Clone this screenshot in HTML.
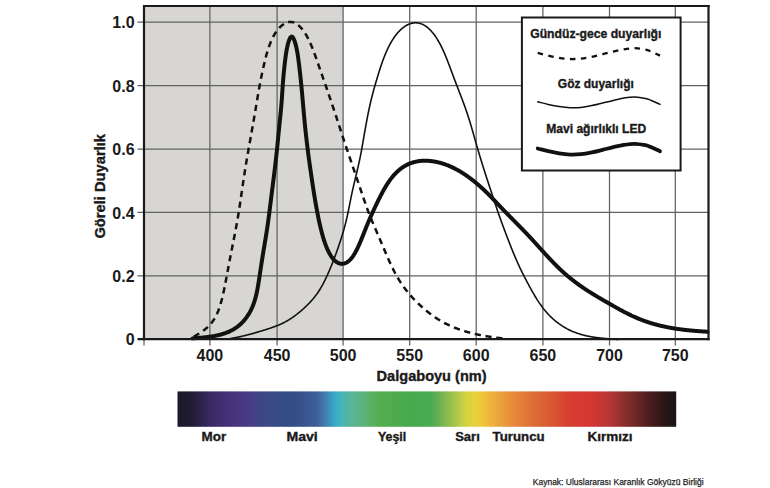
<!DOCTYPE html>
<html><head><meta charset="utf-8"><style>
html,body{margin:0;padding:0;background:#fff;}
svg{display:block;}
text{font-family:"Liberation Sans",sans-serif;}
</style></head><body>
<svg width="770" height="488" viewBox="0 0 770 488">
<defs>
<linearGradient id="spec" x1="177.5" y1="0" x2="676.2" y2="0" gradientUnits="userSpaceOnUse">
<stop offset="0.0000" stop-color="#1c1a2a"/>
<stop offset="0.0251" stop-color="#1f1b30"/>
<stop offset="0.0451" stop-color="#2c2149"/>
<stop offset="0.0652" stop-color="#382962"/>
<stop offset="0.0852" stop-color="#3f2d70"/>
<stop offset="0.1053" stop-color="#45317b"/>
<stop offset="0.1253" stop-color="#4a3682"/>
<stop offset="0.1454" stop-color="#4a3c85"/>
<stop offset="0.1614" stop-color="#3f4586"/>
<stop offset="0.1855" stop-color="#3a4a88"/>
<stop offset="0.2095" stop-color="#334c86"/>
<stop offset="0.2356" stop-color="#334e88"/>
<stop offset="0.2557" stop-color="#39558f"/>
<stop offset="0.2757" stop-color="#3e5c98"/>
<stop offset="0.2898" stop-color="#4470a5"/>
<stop offset="0.3018" stop-color="#3f8ab8"/>
<stop offset="0.3118" stop-color="#38a2c6"/>
<stop offset="0.3218" stop-color="#3cb2c4"/>
<stop offset="0.3319" stop-color="#4ab4b0"/>
<stop offset="0.3459" stop-color="#58b4a0"/>
<stop offset="0.3619" stop-color="#5cb38a"/>
<stop offset="0.3760" stop-color="#5db275"/>
<stop offset="0.3900" stop-color="#5caf60"/>
<stop offset="0.4061" stop-color="#54ad50"/>
<stop offset="0.4361" stop-color="#4dab4d"/>
<stop offset="0.4662" stop-color="#48aa4e"/>
<stop offset="0.5063" stop-color="#4aab52"/>
<stop offset="0.5204" stop-color="#62ae52"/>
<stop offset="0.5364" stop-color="#80b850"/>
<stop offset="0.5564" stop-color="#a8c44a"/>
<stop offset="0.5725" stop-color="#c8d048"/>
<stop offset="0.5825" stop-color="#d8d440"/>
<stop offset="0.5966" stop-color="#e8d03a"/>
<stop offset="0.6106" stop-color="#f0c63a"/>
<stop offset="0.6266" stop-color="#f0b53a"/>
<stop offset="0.6467" stop-color="#e9a33e"/>
<stop offset="0.6667" stop-color="#e8903a"/>
<stop offset="0.6868" stop-color="#e2803a"/>
<stop offset="0.7068" stop-color="#e07038"/>
<stop offset="0.7269" stop-color="#db6535"/>
<stop offset="0.7469" stop-color="#d85a33"/>
<stop offset="0.7670" stop-color="#d84a32"/>
<stop offset="0.7870" stop-color="#d73c2f"/>
<stop offset="0.8272" stop-color="#d43832"/>
<stop offset="0.8572" stop-color="#c03635"/>
<stop offset="0.8773" stop-color="#a53432"/>
<stop offset="0.8973" stop-color="#8a2e2e"/>
<stop offset="0.9174" stop-color="#702828"/>
<stop offset="0.9374" stop-color="#552020"/>
<stop offset="0.9575" stop-color="#3e1a1c"/>
<stop offset="0.9775" stop-color="#281618"/>
<stop offset="1.0000" stop-color="#1c1416"/>
</linearGradient>
</defs>
<rect x="0" y="0" width="770" height="488" fill="#ffffff"/>
<rect x="144" y="6" width="199.1" height="333" fill="#d7d6d2"/>
<g stroke="#626262" stroke-width="1.25" fill="none">
<line x1="209.9" y1="7" x2="209.9" y2="345.5" />
<line x1="277.1" y1="7" x2="277.1" y2="345.5" />
<line x1="343.1" y1="7" x2="343.1" y2="345.5" />
<line x1="409.7" y1="7" x2="409.7" y2="345.5" />
<line x1="476.2" y1="7" x2="476.2" y2="345.5" />
<line x1="542.9" y1="7" x2="542.9" y2="345.5" />
<line x1="609.5" y1="7" x2="609.5" y2="345.5" />
<line x1="675.3" y1="7" x2="675.3" y2="345.5" />
<line x1="144" y1="339" x2="144" y2="345.5" />
<line x1="137.5" y1="22.2" x2="708" y2="22.2" />
<line x1="137.5" y1="85.6" x2="708" y2="85.6" />
<line x1="137.5" y1="149.0" x2="708" y2="149.0" />
<line x1="137.5" y1="212.4" x2="708" y2="212.4" />
<line x1="137.5" y1="275.8" x2="708" y2="275.8" />
</g>
<g fill="none" stroke="#111" stroke-linejoin="round" stroke-linecap="round">
<path d="M228.09,339.02 L228.67,338.91 L229.26,338.80 L229.85,338.69 L230.44,338.59 L231.03,338.48 L231.62,338.37 L232.21,338.26 L232.80,338.15 L233.38,338.03 L233.97,337.92 L234.56,337.81 L235.15,337.70 L235.73,337.58 L236.32,337.46 L236.91,337.35 L237.50,337.23 L238.08,337.11 L238.67,336.98 L239.25,336.86 L239.84,336.73 L240.42,336.61 L241.01,336.48 L241.59,336.35 L242.18,336.21 L242.76,336.08 L243.34,335.94 L243.93,335.81 L244.51,335.67 L245.09,335.53 L245.67,335.38 L246.25,335.24 L246.83,335.09 L247.41,334.94 L247.99,334.79 L248.57,334.64 L249.15,334.49 L249.73,334.33 L250.31,334.18 L250.89,334.02 L251.47,333.86 L252.05,333.70 L252.63,333.54 L253.20,333.38 L253.78,333.21 L254.36,333.05 L254.93,332.88 L255.51,332.72 L256.09,332.55 L256.66,332.38 L257.24,332.21 L257.81,332.04 L258.39,331.87 L258.97,331.69 L259.54,331.52 L260.12,331.35 L260.69,331.17 L261.26,331.00 L261.84,330.82 L262.41,330.64 L262.99,330.47 L263.56,330.29 L264.14,330.11 L264.71,329.93 L265.28,329.75 L265.86,329.57 L266.43,329.39 L267.00,329.21 L267.57,329.02 L268.14,328.84 L268.71,328.65 L269.28,328.46 L269.85,328.28 L270.42,328.08 L270.99,327.89 L271.56,327.70 L272.13,327.50 L272.69,327.30 L273.26,327.10 L273.82,326.90 L274.38,326.69 L274.94,326.48 L275.50,326.27 L276.06,326.05 L276.62,325.84 L277.18,325.62 L277.73,325.39 L278.28,325.16 L278.83,324.93 L279.38,324.70 L279.93,324.46 L280.48,324.22 L281.02,323.97 L281.56,323.72 L282.10,323.47 L282.64,323.21 L283.18,322.95 L283.71,322.69 L284.24,322.42 L284.77,322.14 L285.30,321.87 L285.82,321.58 L286.34,321.30 L286.86,321.01 L287.38,320.71 L287.90,320.41 L288.41,320.11 L288.92,319.80 L289.43,319.49 L289.93,319.17 L290.43,318.85 L290.93,318.53 L291.43,318.20 L291.93,317.87 L292.42,317.53 L292.91,317.19 L293.40,316.85 L293.89,316.50 L294.37,316.15 L294.85,315.80 L295.33,315.44 L295.81,315.08 L296.28,314.71 L296.76,314.35 L297.23,313.98 L297.70,313.60 L298.17,313.23 L298.63,312.85 L299.09,312.47 L299.56,312.08 L300.02,311.70 L300.47,311.31 L300.93,310.92 L301.39,310.53 L301.84,310.13 L302.29,309.74 L302.74,309.34 L303.18,308.93 L303.63,308.53 L304.07,308.12 L304.51,307.72 L304.95,307.31 L305.39,306.89 L305.83,306.48 L306.26,306.06 L306.69,305.65 L307.12,305.22 L307.54,304.80 L307.97,304.38 L308.39,303.95 L308.81,303.52 L309.22,303.09 L309.64,302.66 L310.05,302.22 L310.45,301.78 L310.86,301.34 L311.26,300.90 L311.66,300.45 L312.06,300.01 L312.45,299.55 L312.84,299.10 L313.22,298.64 L313.60,298.19 L313.98,297.72 L314.36,297.26 L314.73,296.79 L315.10,296.32 L315.46,295.85 L315.82,295.38 L316.18,294.90 L316.53,294.42 L316.88,293.94 L317.22,293.45 L317.57,292.96 L317.90,292.47 L318.24,291.98 L318.57,291.48 L318.90,290.98 L319.22,290.48 L319.54,289.98 L319.85,289.47 L320.17,288.96 L320.48,288.45 L320.78,287.94 L321.08,287.42 L321.38,286.91 L321.68,286.39 L321.97,285.87 L322.26,285.34 L322.55,284.82 L322.83,284.29 L323.12,283.76 L323.40,283.23 L323.67,282.70 L323.95,282.17 L324.22,281.64 L324.49,281.10 L324.76,280.56 L325.02,280.03 L325.29,279.49 L325.55,278.95 L325.81,278.41 L326.07,277.86 L326.33,277.32 L326.58,276.78 L326.83,276.23 L327.09,275.68 L327.34,275.14 L327.58,274.59 L327.83,274.04 L328.08,273.49 L328.32,272.94 L328.56,272.39 L328.80,271.84 L329.04,271.28 L329.28,270.73 L329.52,270.18 L329.75,269.62 L329.99,269.07 L330.22,268.51 L330.45,267.96 L330.68,267.40 L330.91,266.85 L331.14,266.29 L331.37,265.73 L331.60,265.17 L331.82,264.61 L332.04,264.06 L332.27,263.50 L332.49,262.94 L332.71,262.38 L332.93,261.82 L333.15,261.26 L333.37,260.69 L333.58,260.13 L333.80,259.57 L334.01,259.01 L334.23,258.45 L334.44,257.88 L334.65,257.32 L334.86,256.76 L335.07,256.19 L335.28,255.63 L335.49,255.06 L335.70,254.50 L335.91,253.93 L336.11,253.37 L336.32,252.80 L336.52,252.24 L336.72,251.67 L336.92,251.10 L337.12,250.54 L337.32,249.97 L337.52,249.40 L337.72,248.83 L337.92,248.27 L338.12,247.70 L338.31,247.13 L338.51,246.56 L338.70,245.99 L338.90,245.42 L339.09,244.85 L339.28,244.28 L339.47,243.71 L339.66,243.14 L339.85,242.57 L340.04,242.00 L340.23,241.43 L340.41,240.86 L340.60,240.29 L340.78,239.72 L340.97,239.15 L341.15,238.58 L341.33,238.00 L341.51,237.43 L341.69,236.86 L341.87,236.28 L342.05,235.71 L342.23,235.14 L342.40,234.56 L342.58,233.99 L342.75,233.41 L342.92,232.84 L343.09,232.26 L343.26,231.69 L343.43,231.11 L343.60,230.54 L343.76,229.96 L343.93,229.38 L344.09,228.80 L344.25,228.23 L344.41,227.65 L344.57,227.07 L344.72,226.49 L344.88,225.91 L345.03,225.33 L345.18,224.75 L345.33,224.17 L345.48,223.59 L345.63,223.01 L345.77,222.43 L345.92,221.84 L346.06,221.26 L346.20,220.68 L346.34,220.09 L346.48,219.51 L346.62,218.93 L346.75,218.34 L346.88,217.76 L347.02,217.17 L347.15,216.59 L347.28,216.00 L347.41,215.42 L347.53,214.83 L347.66,214.24 L347.79,213.66 L347.91,213.07 L348.03,212.48 L348.16,211.90 L348.28,211.31 L348.40,210.72 L348.52,210.13 L348.64,209.54 L348.76,208.96 L348.87,208.37 L348.99,207.78 L349.11,207.19 L349.22,206.60 L349.34,206.01 L349.45,205.42 L349.57,204.83 L349.68,204.25 L349.80,203.66 L349.91,203.07 L350.03,202.48 L350.15,201.89 L350.26,201.30 L350.38,200.71 L350.49,200.12 L350.61,199.53 L350.73,198.95 L350.85,198.36 L350.96,197.77 L351.08,197.18 L351.21,196.59 L351.33,196.01 L351.45,195.42 L351.57,194.83 L351.70,194.24 L351.82,193.66 L351.95,193.07 L352.08,192.48 L352.20,191.90 L352.33,191.31 L352.46,190.72 L352.59,190.14 L352.72,189.55 L352.85,188.97 L352.99,188.38 L353.12,187.80 L353.25,187.21 L353.39,186.63 L353.52,186.04 L353.66,185.46 L353.79,184.87 L353.93,184.29 L354.07,183.70 L354.20,183.12 L354.34,182.53 L354.48,181.95 L354.62,181.37 L354.76,180.78 L354.90,180.20 L355.04,179.61 L355.18,179.03 L355.32,178.45 L355.46,177.86 L355.60,177.28 L355.74,176.69 L355.88,176.11 L356.02,175.53 L356.16,174.94 L356.30,174.36 L356.44,173.78 L356.58,173.19 L356.72,172.61 L356.86,172.02 L357.00,171.44 L357.14,170.85 L357.27,170.27 L357.41,169.69 L357.55,169.10 L357.69,168.52 L357.82,167.93 L357.96,167.35 L358.09,166.76 L358.23,166.18 L358.36,165.59 L358.50,165.01 L358.63,164.42 L358.76,163.84 L358.89,163.25 L359.02,162.66 L359.15,162.08 L359.28,161.49 L359.40,160.91 L359.53,160.32 L359.66,159.73 L359.78,159.14 L359.90,158.56 L360.02,157.97 L360.14,157.38 L360.26,156.79 L360.38,156.21 L360.50,155.62 L360.61,155.03 L360.73,154.44 L360.84,153.85 L360.96,153.26 L361.07,152.67 L361.18,152.08 L361.29,151.49 L361.40,150.90 L361.51,150.31 L361.62,149.72 L361.73,149.13 L361.83,148.54 L361.94,147.95 L362.04,147.36 L362.15,146.77 L362.25,146.17 L362.36,145.58 L362.46,144.99 L362.56,144.40 L362.67,143.81 L362.77,143.22 L362.87,142.63 L362.97,142.03 L363.08,141.44 L363.18,140.85 L363.28,140.26 L363.38,139.67 L363.49,139.07 L363.59,138.48 L363.69,137.89 L363.79,137.30 L363.90,136.71 L364.00,136.12 L364.10,135.52 L364.20,134.93 L364.31,134.34 L364.41,133.75 L364.51,133.16 L364.62,132.57 L364.72,131.97 L364.83,131.38 L364.93,130.79 L365.04,130.20 L365.14,129.61 L365.25,129.02 L365.35,128.43 L365.46,127.83 L365.56,127.24 L365.67,126.65 L365.77,126.06 L365.88,125.47 L365.99,124.88 L366.10,124.29 L366.20,123.70 L366.31,123.10 L366.42,122.51 L366.53,121.92 L366.64,121.33 L366.75,120.74 L366.86,120.15 L366.97,119.56 L367.08,118.97 L367.19,118.38 L367.30,117.79 L367.42,117.20 L367.53,116.61 L367.64,116.02 L367.76,115.43 L367.88,114.84 L367.99,114.26 L368.11,113.67 L368.23,113.08 L368.35,112.49 L368.47,111.90 L368.59,111.31 L368.71,110.73 L368.83,110.14 L368.96,109.55 L369.08,108.96 L369.21,108.38 L369.34,107.79 L369.46,107.20 L369.59,106.62 L369.72,106.03 L369.85,105.45 L369.99,104.86 L370.12,104.28 L370.25,103.69 L370.39,103.11 L370.52,102.52 L370.66,101.94 L370.80,101.35 L370.94,100.77 L371.08,100.19 L371.22,99.60 L371.36,99.02 L371.51,98.44 L371.65,97.86 L371.80,97.27 L371.95,96.69 L372.09,96.11 L372.24,95.53 L372.39,94.95 L372.54,94.37 L372.70,93.79 L372.85,93.21 L373.00,92.63 L373.16,92.05 L373.31,91.47 L373.47,90.89 L373.63,90.31 L373.79,89.73 L373.94,89.15 L374.10,88.58 L374.27,88.00 L374.43,87.42 L374.59,86.84 L374.75,86.27 L374.92,85.69 L375.08,85.11 L375.25,84.54 L375.42,83.96 L375.58,83.38 L375.75,82.81 L375.92,82.23 L376.09,81.65 L376.26,81.08 L376.43,80.50 L376.60,79.93 L376.77,79.35 L376.94,78.78 L377.12,78.20 L377.29,77.62 L377.46,77.05 L377.63,76.47 L377.81,75.90 L377.98,75.32 L378.16,74.75 L378.33,74.17 L378.51,73.60 L378.69,73.02 L378.87,72.45 L379.04,71.87 L379.22,71.30 L379.40,70.72 L379.59,70.15 L379.77,69.57 L379.95,69.00 L380.14,68.42 L380.32,67.85 L380.51,67.28 L380.70,66.70 L380.89,66.13 L381.08,65.56 L381.27,64.98 L381.47,64.41 L381.66,63.84 L381.86,63.27 L382.06,62.69 L382.26,62.12 L382.47,61.55 L382.67,60.98 L382.88,60.41 L383.09,59.84 L383.30,59.27 L383.51,58.70 L383.73,58.13 L383.95,57.56 L384.17,56.99 L384.39,56.43 L384.62,55.86 L384.85,55.29 L385.08,54.73 L385.31,54.16 L385.55,53.60 L385.79,53.03 L386.03,52.47 L386.28,51.91 L386.52,51.35 L386.78,50.79 L387.03,50.23 L387.29,49.67 L387.55,49.11 L387.81,48.55 L388.08,48.00 L388.35,47.44 L388.62,46.89 L388.90,46.34 L389.18,45.79 L389.47,45.24 L389.76,44.69 L390.05,44.15 L390.35,43.60 L390.65,43.06 L390.95,42.52 L391.26,41.99 L391.57,41.45 L391.89,40.92 L392.21,40.39 L392.54,39.87 L392.87,39.34 L393.21,38.82 L393.55,38.30 L393.89,37.79 L394.24,37.28 L394.60,36.77 L394.96,36.27 L395.32,35.77 L395.69,35.28 L396.07,34.79 L396.45,34.31 L396.84,33.83 L397.23,33.36 L397.62,32.89 L398.03,32.43 L398.43,31.98 L398.85,31.53 L399.27,31.09 L399.69,30.66 L400.12,30.23 L400.56,29.82 L401.00,29.41 L401.45,29.01 L401.90,28.62 L402.36,28.23 L402.82,27.86 L403.29,27.50 L403.76,27.15 L404.24,26.81 L404.72,26.48 L405.21,26.16 L405.70,25.85 L406.20,25.56 L406.71,25.28 L407.21,25.01 L407.72,24.76 L408.24,24.51 L408.76,24.29 L409.28,24.08 L409.81,23.88 L410.33,23.70 L410.86,23.53 L411.40,23.38 L411.93,23.25 L412.47,23.13 L413.01,23.03 L413.55,22.94 L414.09,22.88 L414.63,22.83 L415.17,22.80 L415.71,22.79 L416.24,22.80 L416.78,22.83 L417.32,22.88 L417.85,22.94 L418.38,23.03 L418.91,23.13 L419.44,23.26 L419.96,23.40 L420.48,23.55 L421.00,23.73 L421.51,23.92 L422.02,24.13 L422.52,24.35 L423.02,24.59 L423.52,24.84 L424.01,25.11 L424.50,25.40 L424.98,25.69 L425.46,26.00 L425.93,26.33 L426.40,26.66 L426.86,27.01 L427.32,27.37 L427.77,27.74 L428.22,28.12 L428.66,28.51 L429.10,28.91 L429.53,29.32 L429.95,29.74 L430.37,30.16 L430.79,30.60 L431.20,31.04 L431.60,31.49 L432.00,31.95 L432.40,32.41 L432.79,32.88 L433.17,33.36 L433.55,33.84 L433.92,34.32 L434.29,34.82 L434.66,35.31 L435.02,35.81 L435.37,36.32 L435.72,36.83 L436.07,37.34 L436.41,37.86 L436.74,38.38 L437.08,38.90 L437.40,39.43 L437.73,39.96 L438.05,40.49 L438.36,41.02 L438.67,41.56 L438.98,42.10 L439.28,42.64 L439.58,43.19 L439.87,43.73 L440.17,44.28 L440.45,44.83 L440.74,45.38 L441.02,45.93 L441.30,46.48 L441.57,47.03 L441.84,47.59 L442.11,48.14 L442.38,48.70 L442.64,49.26 L442.90,49.82 L443.16,50.38 L443.41,50.94 L443.66,51.50 L443.91,52.06 L444.16,52.62 L444.40,53.18 L444.64,53.75 L444.88,54.31 L445.12,54.87 L445.36,55.44 L445.59,56.00 L445.83,56.57 L446.06,57.13 L446.28,57.70 L446.51,58.26 L446.74,58.83 L446.96,59.39 L447.18,59.96 L447.41,60.52 L447.63,61.09 L447.85,61.65 L448.06,62.22 L448.28,62.78 L448.50,63.35 L448.71,63.92 L448.93,64.48 L449.14,65.05 L449.35,65.61 L449.57,66.18 L449.78,66.74 L449.99,67.31 L450.20,67.87 L450.41,68.44 L450.62,69.00 L450.83,69.57 L451.04,70.13 L451.25,70.70 L451.46,71.26 L451.67,71.83 L451.88,72.39 L452.09,72.95 L452.30,73.52 L452.51,74.08 L452.72,74.64 L452.93,75.21 L453.14,75.77 L453.35,76.33 L453.56,76.90 L453.77,77.46 L453.98,78.02 L454.19,78.58 L454.40,79.14 L454.62,79.71 L454.83,80.27 L455.04,80.83 L455.25,81.39 L455.47,81.95 L455.68,82.51 L455.89,83.07 L456.11,83.63 L456.32,84.19 L456.54,84.75 L456.75,85.31 L456.97,85.87 L457.19,86.43 L457.40,86.99 L457.62,87.55 L457.83,88.11 L458.05,88.67 L458.27,89.23 L458.48,89.79 L458.70,90.35 L458.92,90.91 L459.14,91.47 L459.35,92.03 L459.57,92.59 L459.79,93.15 L460.00,93.71 L460.22,94.27 L460.43,94.83 L460.65,95.39 L460.87,95.95 L461.08,96.51 L461.29,97.07 L461.51,97.63 L461.72,98.19 L461.94,98.75 L462.15,99.31 L462.36,99.88 L462.57,100.44 L462.78,101.00 L462.99,101.56 L463.20,102.12 L463.41,102.69 L463.62,103.25 L463.83,103.81 L464.03,104.38 L464.24,104.94 L464.44,105.50 L464.65,106.07 L464.85,106.63 L465.05,107.20 L465.25,107.76 L465.45,108.33 L465.65,108.90 L465.85,109.46 L466.05,110.03 L466.24,110.60 L466.44,111.16 L466.63,111.73 L466.82,112.30 L467.01,112.87 L467.20,113.44 L467.39,114.01 L467.58,114.58 L467.77,115.15 L467.96,115.72 L468.14,116.29 L468.33,116.86 L468.51,117.43 L468.69,118.00 L468.87,118.58 L469.05,119.15 L469.23,119.72 L469.41,120.29 L469.59,120.87 L469.76,121.44 L469.94,122.02 L470.11,122.59 L470.29,123.17 L470.46,123.74 L470.63,124.32 L470.80,124.89 L470.97,125.47 L471.14,126.04 L471.31,126.62 L471.48,127.19 L471.65,127.77 L471.82,128.35 L471.99,128.92 L472.15,129.50 L472.32,130.08 L472.48,130.66 L472.65,131.23 L472.82,131.81 L472.98,132.39 L473.14,132.97 L473.31,133.54 L473.47,134.12 L473.64,134.70 L473.80,135.28 L473.96,135.86 L474.13,136.43 L474.29,137.01 L474.45,137.59 L474.62,138.17 L474.78,138.75 L474.94,139.32 L475.11,139.90 L475.27,140.48 L475.44,141.06 L475.60,141.64 L475.76,142.21 L475.93,142.79 L476.09,143.37 L476.26,143.95 L476.43,144.52 L476.59,145.10 L476.76,145.68 L476.92,146.25 L477.09,146.83 L477.26,147.41 L477.43,147.99 L477.59,148.56 L477.76,149.14 L477.93,149.71 L478.10,150.29 L478.27,150.87 L478.44,151.44 L478.61,152.02 L478.78,152.59 L478.96,153.17 L479.13,153.75 L479.30,154.32 L479.47,154.90 L479.65,155.47 L479.82,156.05 L479.99,156.62 L480.17,157.20 L480.34,157.77 L480.52,158.34 L480.69,158.92 L480.87,159.49 L481.04,160.07 L481.22,160.64 L481.40,161.22 L481.57,161.79 L481.75,162.36 L481.93,162.94 L482.11,163.51 L482.28,164.09 L482.46,164.66 L482.64,165.23 L482.82,165.81 L483.00,166.38 L483.18,166.95 L483.36,167.52 L483.54,168.10 L483.72,168.67 L483.90,169.24 L484.08,169.82 L484.26,170.39 L484.44,170.96 L484.62,171.53 L484.81,172.11 L484.99,172.68 L485.17,173.25 L485.35,173.82 L485.54,174.39 L485.72,174.97 L485.91,175.54 L486.09,176.11 L486.27,176.68 L486.46,177.25 L486.64,177.82 L486.83,178.39 L487.01,178.97 L487.20,179.54 L487.39,180.11 L487.57,180.68 L487.76,181.25 L487.95,181.82 L488.14,182.39 L488.32,182.96 L488.51,183.53 L488.70,184.10 L488.89,184.67 L489.08,185.24 L489.26,185.81 L489.45,186.38 L489.64,186.95 L489.83,187.52 L490.02,188.09 L490.21,188.66 L490.40,189.23 L490.59,189.80 L490.78,190.37 L490.97,190.94 L491.15,191.51 L491.34,192.08 L491.53,192.65 L491.72,193.22 L491.91,193.79 L492.10,194.36 L492.29,194.93 L492.47,195.50 L492.66,196.07 L492.85,196.64 L493.04,197.21 L493.23,197.78 L493.41,198.35 L493.60,198.92 L493.79,199.49 L493.98,200.06 L494.17,200.63 L494.35,201.20 L494.54,201.77 L494.73,202.34 L494.92,202.91 L495.11,203.48 L495.30,204.05 L495.49,204.62 L495.68,205.19 L495.87,205.76 L496.06,206.33 L496.25,206.90 L496.44,207.47 L496.63,208.04 L496.82,208.61 L497.01,209.18 L497.20,209.74 L497.40,210.31 L497.59,210.88 L497.78,211.45 L497.98,212.02 L498.17,212.58 L498.37,213.15 L498.57,213.72 L498.76,214.29 L498.96,214.85 L499.16,215.42 L499.36,215.99 L499.56,216.55 L499.76,217.12 L499.96,217.68 L500.16,218.25 L500.36,218.81 L500.57,219.38 L500.77,219.94 L500.97,220.51 L501.18,221.07 L501.38,221.64 L501.59,222.20 L501.79,222.77 L502.00,223.33 L502.21,223.89 L502.41,224.46 L502.62,225.02 L502.83,225.59 L503.04,226.15 L503.25,226.71 L503.45,227.27 L503.66,227.84 L503.87,228.40 L504.08,228.96 L504.29,229.53 L504.51,230.09 L504.72,230.65 L504.93,231.21 L505.14,231.77 L505.35,232.34 L505.56,232.90 L505.78,233.46 L505.99,234.02 L506.20,234.58 L506.42,235.14 L506.63,235.70 L506.84,236.27 L507.06,236.83 L507.27,237.39 L507.49,237.95 L507.70,238.51 L507.92,239.07 L508.13,239.63 L508.35,240.19 L508.56,240.75 L508.78,241.31 L509.00,241.87 L509.21,242.43 L509.43,242.99 L509.65,243.55 L509.87,244.11 L510.09,244.67 L510.31,245.23 L510.53,245.78 L510.75,246.34 L510.97,246.90 L511.19,247.46 L511.41,248.02 L511.64,248.57 L511.86,249.13 L512.09,249.69 L512.31,250.24 L512.54,250.80 L512.76,251.36 L512.99,251.91 L513.22,252.47 L513.45,253.02 L513.68,253.58 L513.91,254.13 L514.14,254.68 L514.37,255.24 L514.60,255.79 L514.84,256.34 L515.07,256.90 L515.31,257.45 L515.55,258.00 L515.78,258.55 L516.02,259.10 L516.26,259.65 L516.50,260.20 L516.74,260.75 L516.98,261.30 L517.23,261.85 L517.47,262.40 L517.72,262.94 L517.96,263.49 L518.21,264.04 L518.46,264.58 L518.71,265.13 L518.96,265.68 L519.21,266.22 L519.47,266.76 L519.72,267.31 L519.98,267.85 L520.23,268.39 L520.49,268.94 L520.75,269.48 L521.01,270.02 L521.27,270.56 L521.53,271.10 L521.80,271.64 L522.06,272.18 L522.33,272.72 L522.60,273.25 L522.86,273.79 L523.13,274.33 L523.40,274.86 L523.67,275.40 L523.95,275.94 L524.22,276.47 L524.49,277.00 L524.77,277.54 L525.04,278.07 L525.32,278.61 L525.60,279.14 L525.88,279.67 L526.16,280.20 L526.44,280.74 L526.72,281.27 L527.00,281.80 L527.28,282.33 L527.56,282.86 L527.85,283.39 L528.13,283.92 L528.42,284.45 L528.70,284.98 L528.99,285.51 L529.28,286.04 L529.56,286.57 L529.85,287.09 L530.14,287.62 L530.43,288.15 L530.72,288.68 L531.02,289.20 L531.31,289.73 L531.60,290.25 L531.90,290.78 L532.19,291.30 L532.49,291.83 L532.79,292.35 L533.09,292.87 L533.39,293.39 L533.69,293.91 L534.00,294.43 L534.30,294.95 L534.61,295.47 L534.92,295.99 L535.23,296.50 L535.54,297.02 L535.85,297.53 L536.16,298.05 L536.48,298.56 L536.80,299.07 L537.12,299.58 L537.44,300.08 L537.77,300.59 L538.09,301.09 L538.42,301.60 L538.75,302.10 L539.09,302.60 L539.42,303.10 L539.76,303.59 L540.10,304.09 L540.45,304.58 L540.80,305.07 L541.15,305.56 L541.50,306.04 L541.85,306.53 L542.21,307.01 L542.57,307.49 L542.94,307.96 L543.30,308.44 L543.67,308.91 L544.05,309.38 L544.42,309.85 L544.80,310.31 L545.19,310.77 L545.57,311.23 L545.96,311.69 L546.35,312.14 L546.75,312.59 L547.15,313.04 L547.55,313.48 L547.96,313.92 L548.36,314.36 L548.78,314.79 L549.19,315.23 L549.61,315.65 L550.03,316.08 L550.46,316.50 L550.89,316.92 L551.32,317.33 L551.75,317.74 L552.19,318.15 L552.63,318.56 L553.08,318.96 L553.53,319.35 L553.98,319.75 L554.43,320.14 L554.89,320.52 L555.35,320.91 L555.81,321.28 L556.28,321.66 L556.75,322.03 L557.22,322.40 L557.70,322.76 L558.18,323.12 L558.66,323.47 L559.14,323.83 L559.63,324.17 L560.12,324.52 L560.61,324.86 L561.11,325.19 L561.60,325.52 L562.10,325.85 L562.61,326.17 L563.11,326.49 L563.62,326.80 L564.13,327.11 L564.64,327.42 L565.16,327.72 L565.68,328.01 L566.20,328.31 L566.72,328.59 L567.25,328.88 L567.78,329.15 L568.31,329.43 L568.84,329.70 L569.37,329.96 L569.91,330.22 L570.45,330.48 L570.99,330.73 L571.54,330.97 L572.08,331.21 L572.63,331.45 L573.18,331.68 L573.73,331.91 L574.29,332.13 L574.84,332.34 L575.40,332.56 L575.96,332.77 L576.52,332.97 L577.08,333.17 L577.65,333.36 L578.22,333.56 L578.78,333.74 L579.35,333.92 L579.92,334.10 L580.50,334.27 L581.07,334.44 L581.65,334.61 L582.22,334.77 L582.80,334.93 L583.38,335.08 L583.96,335.23 L584.54,335.37 L585.12,335.51 L585.71,335.65 L586.29,335.78 L586.88,335.91 L587.47,336.03 L588.05,336.15 L588.64,336.27 L589.23,336.39 L589.82,336.50 L590.41,336.61 L591.00,336.71 L591.60,336.82 L592.19,336.91 L592.78,337.01 L593.38,337.10 L593.97,337.20 L594.57,337.28 L595.16,337.37 L595.76,337.45 L596.36,337.53 L596.95,337.61 L597.55,337.69 L598.15,337.76 L598.75,337.84 L599.35,337.91 L599.95,337.97 L600.55,338.04 L601.14,338.11 L601.74,338.17 L602.34,338.23 L602.94,338.29 L603.54,338.35 L604.15,338.40 L604.75,338.46 L605.35,338.51 L605.95,338.57 L606.55,338.62 L607.15,338.67 L607.75,338.72 L608.35,338.77 L608.95,338.81 L609.56,338.86 L610.16,338.91 L610.76,338.95 L611.36,339.00 L611.96,339.04 L612.56,339.08 L613.16,339.13 L613.77,339.17 L614.37,339.21 L614.97,339.25 L615.57,339.30 L616.17,339.34 L616.78,339.38 L617.38,339.42 L617.98,339.46" stroke-width="1.6"/>
<path d="M193.87,336.62 L194.39,336.32 L194.91,336.01 L195.43,335.71 L195.94,335.40 L196.46,335.10 L196.98,334.79 L197.49,334.48 L198.01,334.17 L198.52,333.85 L199.03,333.54 L199.53,333.22 L200.04,332.90 L200.54,332.58 L201.04,332.25 L201.53,331.92 L202.02,331.58 L202.51,331.24 L202.99,330.90 L203.47,330.55 L203.94,330.20 L204.41,329.84 L204.87,329.47 L205.33,329.10 L205.78,328.73 L206.23,328.35 L206.67,327.97 L207.11,327.58 L207.54,327.18 L207.96,326.78 L208.38,326.38 L208.79,325.96 L209.20,325.55 L209.60,325.12 L209.99,324.69 L210.38,324.26 L210.76,323.82 L211.13,323.37 L211.50,322.92 L211.86,322.46 L212.21,322.00 L212.55,321.53 L212.89,321.06 L213.23,320.58 L213.55,320.10 L213.87,319.61 L214.19,319.12 L214.49,318.62 L214.79,318.12 L215.08,317.61 L215.37,317.10 L215.65,316.59 L215.93,316.07 L216.19,315.55 L216.46,315.02 L216.71,314.49 L216.96,313.95 L217.21,313.42 L217.45,312.87 L217.68,312.33 L217.91,311.78 L218.13,311.23 L218.35,310.68 L218.56,310.12 L218.77,309.56 L218.98,309.00 L219.18,308.44 L219.37,307.87 L219.56,307.30 L219.75,306.73 L219.94,306.16 L220.12,305.59 L220.29,305.01 L220.47,304.43 L220.64,303.86 L220.81,303.28 L220.97,302.70 L221.13,302.11 L221.29,301.53 L221.45,300.95 L221.60,300.36 L221.75,299.78 L221.90,299.19 L222.05,298.60 L222.19,298.01 L222.34,297.43 L222.48,296.84 L222.62,296.25 L222.75,295.66 L222.89,295.07 L223.02,294.47 L223.16,293.88 L223.29,293.29 L223.42,292.70 L223.54,292.11 L223.67,291.51 L223.80,290.92 L223.92,290.33 L224.05,289.73 L224.17,289.14 L224.29,288.55 L224.41,287.95 L224.53,287.36 L224.65,286.77 L224.77,286.17 L224.89,285.58 L225.00,284.99 L225.12,284.39 L225.24,283.80 L225.35,283.21 L225.47,282.61 L225.58,282.02 L225.70,281.43 L225.81,280.84 L225.93,280.24 L226.04,279.65 L226.16,279.06 L226.27,278.47 L226.38,277.87 L226.50,277.28 L226.61,276.69 L226.72,276.10 L226.83,275.51 L226.94,274.91 L227.06,274.32 L227.17,273.73 L227.28,273.14 L227.39,272.55 L227.50,271.96 L227.61,271.36 L227.72,270.77 L227.83,270.18 L227.94,269.59 L228.05,269.00 L228.16,268.41 L228.27,267.82 L228.38,267.23 L228.49,266.63 L228.60,266.04 L228.71,265.45 L228.82,264.86 L228.93,264.27 L229.04,263.68 L229.15,263.09 L229.26,262.50 L229.37,261.91 L229.48,261.32 L229.60,260.73 L229.71,260.14 L229.82,259.55 L229.93,258.96 L230.04,258.37 L230.16,257.78 L230.27,257.19 L230.38,256.60 L230.49,256.01 L230.61,255.42 L230.72,254.83 L230.84,254.24 L230.95,253.65 L231.06,253.06 L231.18,252.47 L231.29,251.88 L231.41,251.29 L231.53,250.70 L231.64,250.11 L231.76,249.53 L231.88,248.94 L231.99,248.35 L232.11,247.76 L232.23,247.17 L232.34,246.58 L232.46,245.99 L232.58,245.40 L232.70,244.81 L232.82,244.23 L232.93,243.64 L233.05,243.05 L233.17,242.46 L233.29,241.87 L233.40,241.28 L233.52,240.69 L233.64,240.10 L233.76,239.51 L233.87,238.92 L233.99,238.34 L234.11,237.75 L234.22,237.16 L234.34,236.57 L234.45,235.98 L234.57,235.39 L234.68,234.80 L234.80,234.21 L234.91,233.62 L235.03,233.03 L235.14,232.44 L235.25,231.85 L235.37,231.26 L235.48,230.67 L235.59,230.08 L235.70,229.49 L235.81,228.90 L235.93,228.31 L236.04,227.72 L236.15,227.13 L236.25,226.54 L236.36,225.95 L236.47,225.36 L236.58,224.76 L236.69,224.17 L236.79,223.58 L236.90,222.99 L237.01,222.40 L237.11,221.81 L237.21,221.22 L237.32,220.63 L237.42,220.03 L237.52,219.44 L237.63,218.85 L237.73,218.26 L237.83,217.67 L237.93,217.07 L238.03,216.48 L238.12,215.89 L238.22,215.29 L238.32,214.70 L238.42,214.11 L238.51,213.52 L238.61,212.92 L238.70,212.33 L238.80,211.74 L238.89,211.14 L238.98,210.55 L239.08,209.96 L239.17,209.36 L239.26,208.77 L239.35,208.18 L239.45,207.58 L239.54,206.99 L239.63,206.39 L239.72,205.80 L239.81,205.21 L239.90,204.61 L239.99,204.02 L240.07,203.42 L240.16,202.83 L240.25,202.23 L240.34,201.64 L240.43,201.05 L240.52,200.45 L240.60,199.86 L240.69,199.26 L240.78,198.67 L240.87,198.07 L240.95,197.48 L241.04,196.88 L241.13,196.29 L241.21,195.69 L241.30,195.10 L241.39,194.51 L241.47,193.91 L241.56,193.32 L241.65,192.72 L241.73,192.13 L241.82,191.53 L241.91,190.94 L241.99,190.34 L242.08,189.75 L242.17,189.15 L242.25,188.56 L242.34,187.97 L242.43,187.37 L242.52,186.78 L242.60,186.18 L242.69,185.59 L242.78,184.99 L242.86,184.40 L242.95,183.80 L243.04,183.21 L243.13,182.61 L243.22,182.02 L243.30,181.43 L243.39,180.83 L243.48,180.24 L243.57,179.64 L243.66,179.05 L243.75,178.46 L243.84,177.86 L243.93,177.27 L244.02,176.67 L244.11,176.08 L244.20,175.49 L244.29,174.89 L244.38,174.30 L244.47,173.70 L244.57,173.11 L244.66,172.52 L244.75,171.92 L244.84,171.33 L244.94,170.74 L245.03,170.14 L245.13,169.55 L245.22,168.96 L245.32,168.36 L245.41,167.77 L245.51,167.18 L245.60,166.58 L245.70,165.99 L245.80,165.40 L245.90,164.81 L245.99,164.21 L246.09,163.62 L246.19,163.03 L246.29,162.44 L246.39,161.84 L246.49,161.25 L246.59,160.66 L246.69,160.07 L246.79,159.47 L246.90,158.88 L247.00,158.29 L247.10,157.70 L247.20,157.11 L247.31,156.51 L247.41,155.92 L247.51,155.33 L247.62,154.74 L247.72,154.15 L247.82,153.56 L247.93,152.96 L248.03,152.37 L248.14,151.78 L248.24,151.19 L248.34,150.60 L248.45,150.01 L248.55,149.41 L248.66,148.82 L248.76,148.23 L248.87,147.64 L248.97,147.05 L249.08,146.46 L249.18,145.86 L249.28,145.27 L249.39,144.68 L249.49,144.09 L249.60,143.50 L249.70,142.91 L249.81,142.31 L249.91,141.72 L250.02,141.13 L250.12,140.54 L250.23,139.95 L250.33,139.36 L250.44,138.76 L250.54,138.17 L250.65,137.58 L250.75,136.99 L250.86,136.40 L250.96,135.81 L251.07,135.21 L251.17,134.62 L251.27,134.03 L251.38,133.44 L251.48,132.85 L251.59,132.26 L251.69,131.66 L251.80,131.07 L251.90,130.48 L252.01,129.89 L252.11,129.30 L252.22,128.71 L252.32,128.11 L252.43,127.52 L252.53,126.93 L252.63,126.34 L252.74,125.75 L252.84,125.16 L252.95,124.56 L253.05,123.97 L253.15,123.38 L253.26,122.79 L253.36,122.20 L253.46,121.60 L253.57,121.01 L253.67,120.42 L253.77,119.83 L253.88,119.24 L253.98,118.65 L254.08,118.05 L254.18,117.46 L254.29,116.87 L254.39,116.28 L254.49,115.69 L254.59,115.09 L254.69,114.50 L254.79,113.91 L254.90,113.32 L255.00,112.73 L255.10,112.13 L255.20,111.54 L255.30,110.95 L255.40,110.36 L255.50,109.77 L255.60,109.17 L255.70,108.58 L255.79,107.99 L255.89,107.40 L255.99,106.80 L256.09,106.21 L256.19,105.62 L256.29,105.03 L256.38,104.44 L256.48,103.84 L256.58,103.25 L256.68,102.66 L256.78,102.07 L256.87,101.48 L256.97,100.88 L257.07,100.29 L257.17,99.70 L257.27,99.11 L257.37,98.52 L257.47,97.93 L257.57,97.33 L257.67,96.74 L257.77,96.15 L257.87,95.56 L257.97,94.97 L258.07,94.38 L258.17,93.79 L258.27,93.20 L258.37,92.60 L258.48,92.01 L258.58,91.42 L258.68,90.83 L258.79,90.24 L258.89,89.65 L259.00,89.06 L259.10,88.47 L259.21,87.88 L259.32,87.29 L259.43,86.70 L259.53,86.11 L259.64,85.52 L259.75,84.93 L259.86,84.34 L259.98,83.75 L260.09,83.16 L260.20,82.57 L260.31,81.99 L260.43,81.40 L260.54,80.81 L260.66,80.22 L260.78,79.63 L260.89,79.04 L261.01,78.45 L261.13,77.86 L261.25,77.27 L261.37,76.68 L261.49,76.09 L261.61,75.50 L261.73,74.91 L261.86,74.32 L261.98,73.73 L262.10,73.14 L262.23,72.55 L262.35,71.96 L262.48,71.37 L262.61,70.78 L262.74,70.19 L262.87,69.60 L263.00,69.01 L263.13,68.41 L263.26,67.82 L263.39,67.23 L263.52,66.64 L263.66,66.04 L263.79,65.45 L263.93,64.86 L264.07,64.26 L264.21,63.67 L264.34,63.07 L264.49,62.48 L264.63,61.88 L264.77,61.28 L264.92,60.69 L265.06,60.09 L265.21,59.49 L265.36,58.89 L265.51,58.30 L265.67,57.70 L265.82,57.10 L265.98,56.50 L266.14,55.90 L266.30,55.30 L266.47,54.70 L266.64,54.10 L266.81,53.50 L266.98,52.90 L267.16,52.30 L267.34,51.70 L267.52,51.10 L267.70,50.50 L267.89,49.90 L268.08,49.30 L268.28,48.70 L268.48,48.11 L268.68,47.51 L268.88,46.91 L269.09,46.32 L269.31,45.72 L269.53,45.13 L269.75,44.53 L269.98,43.94 L270.21,43.35 L270.45,42.76 L270.69,42.17 L270.93,41.58 L271.18,41.00 L271.44,40.41 L271.70,39.83 L271.97,39.25 L272.24,38.68 L272.52,38.11 L272.80,37.54 L273.09,36.97 L273.39,36.41 L273.69,35.86 L273.99,35.30 L274.31,34.76 L274.63,34.21 L274.95,33.68 L275.28,33.15 L275.62,32.62 L275.97,32.10 L276.32,31.59 L276.68,31.09 L277.05,30.59 L277.42,30.10 L277.80,29.62 L278.18,29.15 L278.57,28.69 L278.97,28.24 L279.38,27.80 L279.79,27.37 L280.20,26.95 L280.62,26.55 L281.05,26.15 L281.48,25.78 L281.92,25.41 L282.36,25.06 L282.81,24.73 L283.27,24.41 L283.73,24.10 L284.19,23.81 L284.66,23.55 L285.13,23.29 L285.61,23.06 L286.08,22.85 L286.56,22.65 L287.05,22.48 L287.53,22.33 L288.02,22.20 L288.50,22.09 L288.99,22.01 L289.48,21.94 L289.96,21.91 L290.45,21.90 L290.94,21.91 L291.42,21.95 L291.90,22.02 L292.39,22.11 L292.87,22.22 L293.34,22.36 L293.82,22.52 L294.29,22.70 L294.76,22.91 L295.22,23.13 L295.69,23.38 L296.14,23.64 L296.60,23.92 L297.05,24.22 L297.50,24.54 L297.94,24.88 L298.37,25.23 L298.80,25.59 L299.23,25.97 L299.65,26.36 L300.06,26.77 L300.47,27.19 L300.88,27.62 L301.28,28.06 L301.67,28.51 L302.06,28.98 L302.44,29.45 L302.82,29.94 L303.19,30.43 L303.56,30.93 L303.92,31.44 L304.28,31.96 L304.63,32.48 L304.97,33.01 L305.31,33.55 L305.64,34.09 L305.97,34.63 L306.30,35.18 L306.62,35.74 L306.93,36.30 L307.24,36.86 L307.54,37.43 L307.84,38.00 L308.13,38.57 L308.42,39.14 L308.71,39.72 L308.99,40.30 L309.27,40.88 L309.54,41.46 L309.81,42.05 L310.07,42.63 L310.33,43.21 L310.59,43.80 L310.85,44.39 L311.10,44.97 L311.34,45.56 L311.59,46.14 L311.83,46.73 L312.07,47.32 L312.30,47.90 L312.54,48.49 L312.77,49.07 L313.00,49.65 L313.22,50.24 L313.44,50.82 L313.67,51.40 L313.89,51.99 L314.10,52.57 L314.32,53.15 L314.53,53.73 L314.75,54.31 L314.96,54.89 L315.17,55.47 L315.38,56.05 L315.59,56.63 L315.79,57.21 L316.00,57.78 L316.21,58.36 L316.41,58.93 L316.61,59.51 L316.82,60.08 L317.02,60.66 L317.22,61.23 L317.42,61.81 L317.62,62.38 L317.82,62.95 L318.02,63.52 L318.22,64.09 L318.42,64.66 L318.62,65.23 L318.82,65.80 L319.02,66.37 L319.21,66.94 L319.41,67.51 L319.61,68.08 L319.81,68.65 L320.00,69.22 L320.20,69.79 L320.40,70.36 L320.59,70.92 L320.79,71.49 L320.99,72.06 L321.18,72.63 L321.38,73.19 L321.58,73.76 L321.77,74.33 L321.97,74.89 L322.17,75.46 L322.36,76.02 L322.56,76.59 L322.76,77.16 L322.95,77.72 L323.15,78.29 L323.35,78.85 L323.54,79.42 L323.74,79.99 L323.94,80.55 L324.13,81.12 L324.33,81.68 L324.53,82.25 L324.72,82.81 L324.92,83.38 L325.12,83.95 L325.32,84.51 L325.51,85.08 L325.71,85.64 L325.91,86.21 L326.10,86.77 L326.30,87.34 L326.49,87.91 L326.69,88.47 L326.89,89.04 L327.08,89.61 L327.28,90.17 L327.47,90.74 L327.67,91.31 L327.87,91.87 L328.06,92.44 L328.26,93.01 L328.45,93.57 L328.64,94.14 L328.84,94.71 L329.03,95.28 L329.23,95.84 L329.42,96.41 L329.62,96.98 L329.81,97.55 L330.00,98.12 L330.19,98.68 L330.39,99.25 L330.58,99.82 L330.77,100.39 L330.96,100.96 L331.16,101.53 L331.35,102.10 L331.54,102.66 L331.73,103.23 L331.92,103.80 L332.11,104.37 L332.30,104.94 L332.50,105.51 L332.69,106.08 L332.88,106.65 L333.07,107.22 L333.26,107.79 L333.45,108.36 L333.64,108.93 L333.83,109.50 L334.02,110.07 L334.21,110.64 L334.40,111.21 L334.59,111.78 L334.78,112.35 L334.97,112.92 L335.16,113.49 L335.34,114.06 L335.53,114.63 L335.72,115.20 L335.91,115.77 L336.10,116.34 L336.29,116.91 L336.47,117.48 L336.66,118.05 L336.85,118.62 L337.04,119.20 L337.22,119.77 L337.41,120.34 L337.60,120.91 L337.78,121.48 L337.97,122.05 L338.16,122.62 L338.34,123.19 L338.53,123.77 L338.71,124.34 L338.90,124.91 L339.08,125.48 L339.27,126.05 L339.46,126.62 L339.64,127.19 L339.83,127.77 L340.01,128.34 L340.20,128.91 L340.38,129.48 L340.57,130.05 L340.75,130.62 L340.94,131.20 L341.12,131.77 L341.31,132.34 L341.50,132.91 L341.68,133.48 L341.87,134.05 L342.05,134.62 L342.24,135.20 L342.43,135.77 L342.61,136.34 L342.80,136.91 L342.99,137.48 L343.17,138.05 L343.36,138.62 L343.55,139.19 L343.74,139.76 L343.92,140.33 L344.11,140.90 L344.30,141.47 L344.49,142.04 L344.68,142.62 L344.87,143.19 L345.06,143.76 L345.25,144.33 L345.44,144.89 L345.63,145.46 L345.82,146.03 L346.01,146.60 L346.20,147.17 L346.39,147.74 L346.58,148.31 L346.78,148.88 L346.97,149.45 L347.16,150.02 L347.35,150.59 L347.55,151.16 L347.74,151.73 L347.93,152.29 L348.13,152.86 L348.32,153.43 L348.51,154.00 L348.71,154.57 L348.90,155.14 L349.10,155.71 L349.29,156.27 L349.48,156.84 L349.68,157.41 L349.87,157.98 L350.07,158.55 L350.26,159.12 L350.45,159.69 L350.65,160.25 L350.84,160.82 L351.04,161.39 L351.23,161.96 L351.42,162.53 L351.62,163.10 L351.81,163.67 L352.00,164.23 L352.20,164.80 L352.39,165.37 L352.58,165.94 L352.78,166.51 L352.97,167.08 L353.16,167.65 L353.36,168.21 L353.55,168.78 L353.75,169.35 L353.94,169.92 L354.13,170.49 L354.33,171.06 L354.52,171.63 L354.72,172.19 L354.91,172.76 L355.11,173.33 L355.30,173.90 L355.50,174.47 L355.69,175.04 L355.88,175.60 L356.08,176.17 L356.27,176.74 L356.47,177.31 L356.66,177.88 L356.86,178.45 L357.05,179.01 L357.25,179.58 L357.44,180.15 L357.63,180.72 L357.83,181.29 L358.02,181.86 L358.21,182.43 L358.41,183.00 L358.60,183.57 L358.79,184.13 L358.98,184.70 L359.18,185.27 L359.37,185.84 L359.56,186.41 L359.75,186.98 L359.94,187.55 L360.14,188.12 L360.33,188.69 L360.52,189.26 L360.71,189.83 L360.90,190.40 L361.10,190.97 L361.29,191.54 L361.48,192.11 L361.67,192.68 L361.86,193.25 L362.05,193.81 L362.24,194.38 L362.44,194.95 L362.63,195.52 L362.82,196.09 L363.01,196.66 L363.20,197.23 L363.40,197.80 L363.59,198.37 L363.78,198.94 L363.98,199.51 L364.17,200.07 L364.37,200.64 L364.56,201.21 L364.76,201.78 L364.95,202.35 L365.15,202.91 L365.35,203.48 L365.54,204.05 L365.74,204.61 L365.94,205.18 L366.14,205.75 L366.34,206.31 L366.55,206.88 L366.75,207.44 L366.95,208.01 L367.16,208.57 L367.36,209.13 L367.57,209.70 L367.78,210.26 L367.99,210.82 L368.20,211.38 L368.41,211.95 L368.63,212.51 L368.84,213.07 L369.06,213.63 L369.27,214.18 L369.49,214.74 L369.71,215.30 L369.94,215.86 L370.16,216.42 L370.38,216.97 L370.61,217.53 L370.83,218.08 L371.06,218.64 L371.29,219.20 L371.52,219.75 L371.75,220.30 L371.98,220.86 L372.21,221.41 L372.45,221.97 L372.68,222.52 L372.91,223.07 L373.15,223.63 L373.38,224.18 L373.62,224.73 L373.85,225.28 L374.09,225.83 L374.32,226.39 L374.56,226.94 L374.80,227.49 L375.04,228.04 L375.27,228.59 L375.51,229.15 L375.75,229.70 L375.99,230.25 L376.23,230.80 L376.47,231.35 L376.70,231.90 L376.94,232.46 L377.18,233.01 L377.42,233.56 L377.66,234.11 L377.90,234.66 L378.13,235.21 L378.37,235.77 L378.61,236.32 L378.85,236.87 L379.09,237.42 L379.33,237.97 L379.56,238.53 L379.80,239.08 L380.04,239.63 L380.28,240.18 L380.51,240.74 L380.75,241.29 L380.99,241.84 L381.23,242.39 L381.46,242.95 L381.70,243.50 L381.93,244.05 L382.17,244.60 L382.41,245.16 L382.64,245.71 L382.88,246.26 L383.11,246.82 L383.35,247.37 L383.59,247.92 L383.82,248.48 L384.06,249.03 L384.29,249.58 L384.53,250.14 L384.76,250.69 L385.00,251.24 L385.23,251.80 L385.47,252.35 L385.71,252.90 L385.94,253.46 L386.18,254.01 L386.42,254.56 L386.65,255.12 L386.89,255.67 L387.13,256.22 L387.37,256.77 L387.61,257.33 L387.85,257.88 L388.09,258.43 L388.33,258.98 L388.57,259.53 L388.82,260.08 L389.06,260.63 L389.31,261.17 L389.55,261.72 L389.80,262.27 L390.05,262.82 L390.30,263.36 L390.56,263.91 L390.81,264.45 L391.06,265.00 L391.32,265.54 L391.58,266.08 L391.84,266.62 L392.10,267.16 L392.37,267.70 L392.63,268.24 L392.90,268.78 L393.17,269.32 L393.44,269.85 L393.71,270.39 L393.99,270.92 L394.26,271.45 L394.54,271.98 L394.82,272.51 L395.11,273.04 L395.39,273.57 L395.68,274.10 L395.97,274.62 L396.26,275.14 L396.56,275.67 L396.85,276.19 L397.15,276.71 L397.46,277.23 L397.76,277.74 L398.07,278.26 L398.38,278.77 L398.69,279.28 L399.00,279.79 L399.32,280.30 L399.64,280.81 L399.96,281.32 L400.28,281.82 L400.61,282.32 L400.94,282.82 L401.27,283.32 L401.60,283.82 L401.94,284.32 L402.28,284.81 L402.62,285.31 L402.97,285.80 L403.31,286.29 L403.66,286.77 L404.01,287.26 L404.37,287.74 L404.72,288.23 L405.08,288.71 L405.44,289.19 L405.80,289.66 L406.17,290.14 L406.54,290.61 L406.91,291.09 L407.28,291.56 L407.65,292.02 L408.03,292.49 L408.41,292.95 L408.79,293.42 L409.18,293.88 L409.57,294.33 L409.96,294.79 L410.35,295.25 L410.74,295.70 L411.14,296.15 L411.54,296.60 L411.94,297.04 L412.34,297.49 L412.75,297.93 L413.16,298.37 L413.57,298.81 L413.98,299.24 L414.40,299.68 L414.81,300.11 L415.23,300.54 L415.65,300.97 L416.08,301.39 L416.50,301.82 L416.93,302.24 L417.36,302.66 L417.79,303.08 L418.22,303.49 L418.66,303.91 L419.10,304.32 L419.54,304.73 L419.98,305.14 L420.42,305.55 L420.87,305.95 L421.31,306.35 L421.76,306.75 L422.21,307.15 L422.66,307.55 L423.11,307.95 L423.57,308.34 L424.02,308.73 L424.48,309.12 L424.94,309.51 L425.40,309.90 L425.86,310.28 L426.32,310.67 L426.79,311.05 L427.26,311.43 L427.72,311.80 L428.19,312.18 L428.66,312.55 L429.13,312.92 L429.61,313.29 L430.08,313.66 L430.56,314.03 L431.03,314.39 L431.51,314.75 L432.00,315.11 L432.48,315.46 L432.96,315.82 L433.45,316.17 L433.94,316.51 L434.43,316.86 L434.92,317.20 L435.42,317.53 L435.91,317.87 L436.41,318.20 L436.91,318.53 L437.41,318.85 L437.92,319.18 L438.42,319.49 L438.93,319.81 L439.44,320.12 L439.96,320.43 L440.47,320.74 L440.99,321.04 L441.50,321.34 L442.02,321.63 L442.55,321.92 L443.07,322.21 L443.60,322.50 L444.12,322.78 L444.65,323.06 L445.19,323.34 L445.72,323.61 L446.25,323.88 L446.79,324.15 L447.33,324.41 L447.87,324.67 L448.41,324.93 L448.95,325.18 L449.50,325.43 L450.04,325.68 L450.59,325.93 L451.14,326.17 L451.69,326.41 L452.24,326.65 L452.79,326.88 L453.34,327.11 L453.90,327.34 L454.45,327.57 L455.01,327.79 L455.57,328.01 L456.13,328.23 L456.69,328.44 L457.25,328.65 L457.81,328.86 L458.38,329.07 L458.94,329.27 L459.51,329.47 L460.08,329.67 L460.64,329.87 L461.21,330.06 L461.78,330.25 L462.35,330.44 L462.93,330.63 L463.50,330.81 L464.07,330.99 L464.65,331.17 L465.22,331.34 L465.80,331.52 L466.37,331.69 L466.95,331.86 L467.53,332.02 L468.11,332.19 L468.68,332.35 L469.26,332.51 L469.85,332.66 L470.43,332.82 L471.01,332.97 L471.59,333.12 L472.17,333.27 L472.76,333.41 L473.34,333.56 L473.92,333.70 L474.51,333.84 L475.09,333.97 L475.68,334.11 L476.27,334.24 L476.85,334.37 L477.44,334.50 L478.03,334.63 L478.62,334.75 L479.20,334.87 L479.79,334.99 L480.38,335.11 L480.97,335.23 L481.56,335.34 L482.15,335.46 L482.74,335.57 L483.33,335.67 L483.93,335.78 L484.52,335.89 L485.11,335.99 L485.70,336.09 L486.30,336.19 L486.89,336.29 L487.48,336.38 L488.07,336.48 L488.67,336.57 L489.26,336.66 L489.86,336.75 L490.45,336.84 L491.05,336.92 L491.64,337.01 L492.24,337.09 L492.83,337.18 L493.43,337.26 L494.02,337.34 L494.62,337.41 L495.21,337.49 L495.81,337.57 L496.41,337.64 L497.00,337.72 L497.60,337.79 L498.20,337.87 L498.79,337.94 L499.39,338.01 L499.99,338.08 L500.58,338.15 L501.18,338.22 L501.78,338.29 L502.38,338.36 L502.97,338.43 L503.57,338.49 L504.17,338.56 L504.77,338.63 L505.36,338.70 L505.96,338.77" stroke-width="2.5" stroke-dasharray="6.2 4.7" stroke-linecap="butt"/>
<path d="M192.59,338.37 L193.20,338.32 L193.80,338.28 L194.41,338.23 L195.01,338.19 L195.62,338.14 L196.23,338.10 L196.83,338.05 L197.44,338.00 L198.05,337.96 L198.65,337.91 L199.26,337.86 L199.86,337.81 L200.47,337.76 L201.07,337.70 L201.68,337.65 L202.28,337.59 L202.88,337.53 L203.49,337.47 L204.09,337.41 L204.69,337.35 L205.29,337.29 L205.90,337.22 L206.50,337.15 L207.10,337.08 L207.70,337.00 L208.30,336.93 L208.90,336.85 L209.50,336.76 L210.10,336.68 L210.70,336.59 L211.29,336.50 L211.89,336.41 L212.49,336.31 L213.08,336.21 L213.67,336.10 L214.27,336.00 L214.86,335.88 L215.45,335.77 L216.04,335.65 L216.63,335.53 L217.22,335.40 L217.80,335.27 L218.39,335.13 L218.97,334.99 L219.55,334.85 L220.13,334.70 L220.71,334.54 L221.29,334.38 L221.86,334.22 L222.43,334.05 L223.00,333.87 L223.57,333.69 L224.14,333.50 L224.70,333.31 L225.26,333.12 L225.82,332.91 L226.38,332.70 L226.93,332.49 L227.48,332.27 L228.03,332.04 L228.57,331.81 L229.11,331.57 L229.65,331.32 L230.18,331.07 L230.71,330.81 L231.24,330.55 L231.76,330.27 L232.28,330.00 L232.80,329.71 L233.31,329.42 L233.81,329.12 L234.32,328.81 L234.81,328.50 L235.31,328.18 L235.79,327.86 L236.28,327.52 L236.76,327.18 L237.23,326.84 L237.70,326.48 L238.17,326.12 L238.63,325.76 L239.08,325.38 L239.53,325.00 L239.97,324.62 L240.41,324.23 L240.84,323.83 L241.27,323.42 L241.69,323.01 L242.11,322.59 L242.52,322.17 L242.92,321.74 L243.32,321.30 L243.72,320.86 L244.11,320.42 L244.49,319.97 L244.87,319.51 L245.24,319.05 L245.60,318.58 L245.96,318.11 L246.32,317.64 L246.67,317.15 L247.01,316.67 L247.35,316.18 L247.68,315.69 L248.01,315.19 L248.33,314.69 L248.65,314.18 L248.96,313.67 L249.26,313.16 L249.56,312.64 L249.85,312.12 L250.14,311.60 L250.42,311.07 L250.70,310.54 L250.97,310.01 L251.23,309.47 L251.49,308.94 L251.74,308.39 L251.99,307.85 L252.23,307.30 L252.46,306.75 L252.69,306.20 L252.92,305.64 L253.14,305.09 L253.35,304.53 L253.56,303.97 L253.76,303.40 L253.96,302.84 L254.15,302.27 L254.34,301.70 L254.52,301.13 L254.70,300.55 L254.88,299.98 L255.05,299.40 L255.21,298.83 L255.37,298.25 L255.53,297.67 L255.69,297.09 L255.84,296.50 L255.98,295.92 L256.12,295.34 L256.26,294.75 L256.40,294.16 L256.53,293.58 L256.66,292.99 L256.79,292.40 L256.91,291.81 L257.03,291.22 L257.15,290.63 L257.27,290.04 L257.38,289.45 L257.49,288.85 L257.60,288.26 L257.71,287.67 L257.82,287.07 L257.92,286.48 L258.03,285.89 L258.13,285.29 L258.23,284.70 L258.33,284.10 L258.42,283.51 L258.52,282.91 L258.62,282.32 L258.71,281.72 L258.81,281.13 L258.90,280.53 L258.99,279.94 L259.09,279.34 L259.18,278.75 L259.27,278.15 L259.36,277.56 L259.45,276.96 L259.54,276.37 L259.63,275.77 L259.72,275.18 L259.81,274.58 L259.90,273.99 L259.99,273.39 L260.08,272.80 L260.17,272.20 L260.26,271.60 L260.35,271.01 L260.44,270.42 L260.53,269.82 L260.62,269.23 L260.71,268.63 L260.80,268.04 L260.89,267.44 L260.98,266.85 L261.07,266.25 L261.16,265.66 L261.25,265.06 L261.34,264.47 L261.43,263.88 L261.52,263.28 L261.61,262.69 L261.71,262.10 L261.80,261.50 L261.89,260.91 L261.98,260.31 L262.08,259.72 L262.17,259.13 L262.27,258.53 L262.36,257.94 L262.45,257.35 L262.55,256.76 L262.64,256.16 L262.74,255.57 L262.84,254.98 L262.93,254.39 L263.03,253.79 L263.13,253.20 L263.23,252.61 L263.32,252.02 L263.42,251.42 L263.52,250.83 L263.62,250.24 L263.72,249.65 L263.81,249.05 L263.91,248.46 L264.01,247.87 L264.11,247.28 L264.21,246.69 L264.31,246.09 L264.41,245.50 L264.50,244.91 L264.60,244.32 L264.70,243.73 L264.80,243.13 L264.90,242.54 L265.00,241.95 L265.09,241.36 L265.19,240.77 L265.29,240.17 L265.39,239.58 L265.48,238.99 L265.58,238.40 L265.68,237.80 L265.77,237.21 L265.87,236.62 L265.97,236.03 L266.06,235.43 L266.16,234.84 L266.25,234.25 L266.34,233.66 L266.44,233.06 L266.53,232.47 L266.62,231.88 L266.72,231.28 L266.81,230.69 L266.90,230.10 L266.99,229.50 L267.08,228.91 L267.17,228.32 L267.26,227.72 L267.35,227.13 L267.43,226.54 L267.52,225.94 L267.61,225.35 L267.70,224.76 L267.78,224.16 L267.87,223.57 L267.95,222.97 L268.04,222.38 L268.12,221.79 L268.20,221.19 L268.28,220.60 L268.37,220.00 L268.45,219.41 L268.53,218.81 L268.61,218.22 L268.69,217.62 L268.77,217.03 L268.85,216.43 L268.92,215.84 L269.00,215.24 L269.08,214.65 L269.16,214.05 L269.23,213.46 L269.31,212.86 L269.38,212.27 L269.46,211.67 L269.53,211.07 L269.61,210.48 L269.68,209.88 L269.76,209.29 L269.83,208.69 L269.91,208.10 L269.98,207.50 L270.06,206.91 L270.13,206.31 L270.20,205.71 L270.28,205.12 L270.35,204.52 L270.43,203.93 L270.50,203.33 L270.57,202.73 L270.65,202.14 L270.72,201.54 L270.79,200.95 L270.87,200.35 L270.94,199.76 L271.01,199.16 L271.09,198.56 L271.16,197.97 L271.24,197.37 L271.31,196.78 L271.38,196.18 L271.46,195.59 L271.53,194.99 L271.61,194.39 L271.68,193.80 L271.76,193.20 L271.83,192.61 L271.91,192.01 L271.98,191.42 L272.06,190.82 L272.13,190.22 L272.21,189.63 L272.28,189.03 L272.36,188.44 L272.43,187.84 L272.51,187.25 L272.58,186.65 L272.66,186.05 L272.73,185.46 L272.81,184.86 L272.88,184.27 L272.96,183.67 L273.04,183.08 L273.11,182.48 L273.19,181.89 L273.26,181.29 L273.34,180.69 L273.41,180.10 L273.49,179.50 L273.56,178.91 L273.64,178.31 L273.71,177.72 L273.79,177.12 L273.86,176.52 L273.94,175.93 L274.01,175.33 L274.09,174.74 L274.16,174.14 L274.23,173.55 L274.31,172.95 L274.38,172.35 L274.45,171.76 L274.53,171.16 L274.60,170.57 L274.67,169.97 L274.75,169.37 L274.82,168.78 L274.89,168.18 L274.96,167.59 L275.03,166.99 L275.10,166.39 L275.18,165.80 L275.25,165.20 L275.32,164.61 L275.39,164.01 L275.46,163.41 L275.53,162.82 L275.60,162.22 L275.66,161.62 L275.73,161.03 L275.80,160.43 L275.87,159.83 L275.94,159.24 L276.00,158.64 L276.07,158.04 L276.14,157.45 L276.20,156.85 L276.27,156.25 L276.33,155.66 L276.40,155.06 L276.46,154.46 L276.53,153.87 L276.59,153.27 L276.66,152.67 L276.72,152.08 L276.78,151.48 L276.85,150.88 L276.91,150.28 L276.97,149.69 L277.03,149.09 L277.09,148.49 L277.15,147.90 L277.21,147.30 L277.27,146.70 L277.33,146.10 L277.39,145.51 L277.45,144.91 L277.51,144.31 L277.57,143.71 L277.63,143.12 L277.69,142.52 L277.75,141.92 L277.81,141.32 L277.87,140.73 L277.92,140.13 L277.98,139.53 L278.04,138.93 L278.10,138.34 L278.16,137.74 L278.22,137.14 L278.27,136.54 L278.33,135.95 L278.39,135.35 L278.45,134.75 L278.51,134.15 L278.57,133.56 L278.63,132.96 L278.69,132.36 L278.75,131.77 L278.81,131.17 L278.87,130.57 L278.93,129.97 L278.99,129.38 L279.05,128.78 L279.11,128.18 L279.17,127.59 L279.23,126.99 L279.29,126.39 L279.35,125.80 L279.41,125.20 L279.47,124.60 L279.53,124.01 L279.59,123.41 L279.65,122.82 L279.71,122.22 L279.78,121.62 L279.84,121.03 L279.90,120.43 L279.96,119.84 L280.02,119.24 L280.08,118.64 L280.14,118.05 L280.20,117.45 L280.26,116.86 L280.32,116.26 L280.38,115.67 L280.44,115.07 L280.50,114.48 L280.56,113.88 L280.62,113.29 L280.67,112.69 L280.73,112.09 L280.79,111.50 L280.84,110.90 L280.90,110.31 L280.95,109.71 L281.01,109.12 L281.06,108.52 L281.12,107.93 L281.17,107.33 L281.22,106.74 L281.27,106.14 L281.32,105.55 L281.37,104.95 L281.42,104.36 L281.47,103.76 L281.52,103.17 L281.56,102.57 L281.61,101.98 L281.66,101.38 L281.70,100.79 L281.75,100.19 L281.79,99.59 L281.83,99.00 L281.87,98.40 L281.92,97.81 L281.96,97.21 L282.00,96.61 L282.04,96.02 L282.08,95.42 L282.11,94.82 L282.15,94.23 L282.19,93.63 L282.23,93.03 L282.27,92.43 L282.31,91.83 L282.34,91.23 L282.38,90.63 L282.42,90.03 L282.46,89.43 L282.50,88.83 L282.54,88.23 L282.58,87.63 L282.62,87.03 L282.66,86.42 L282.71,85.82 L282.75,85.22 L282.80,84.61 L282.84,84.01 L282.89,83.40 L282.93,82.79 L282.98,82.19 L283.03,81.58 L283.08,80.97 L283.13,80.36 L283.18,79.74 L283.23,79.13 L283.28,78.52 L283.33,77.90 L283.39,77.29 L283.44,76.67 L283.50,76.05 L283.55,75.43 L283.61,74.81 L283.67,74.18 L283.72,73.56 L283.78,72.93 L283.84,72.31 L283.90,71.68 L283.96,71.05 L284.03,70.41 L284.09,69.78 L284.15,69.15 L284.22,68.51 L284.29,67.87 L284.35,67.23 L284.42,66.59 L284.49,65.95 L284.56,65.31 L284.63,64.67 L284.71,64.02 L284.78,63.37 L284.85,62.72 L284.93,62.08 L285.01,61.42 L285.08,60.77 L285.16,60.12 L285.25,59.46 L285.33,58.81 L285.41,58.15 L285.50,57.50 L285.59,56.84 L285.68,56.19 L285.77,55.53 L285.86,54.88 L285.96,54.23 L286.06,53.58 L286.16,52.93 L286.26,52.28 L286.37,51.63 L286.48,50.99 L286.59,50.35 L286.70,49.71 L286.82,49.08 L286.94,48.45 L287.07,47.82 L287.20,47.20 L287.33,46.58 L287.47,45.97 L287.61,45.36 L287.75,44.77 L287.90,44.18 L288.05,43.60 L288.21,43.03 L288.37,42.47 L288.54,41.92 L288.71,41.38 L288.88,40.86 L289.07,40.35 L289.25,39.85 L289.44,39.38 L289.64,38.92 L289.84,38.50 L290.05,38.10 L290.26,37.74 L290.47,37.43 L290.68,37.15 L290.90,36.93 L291.12,36.75 L291.34,36.64 L291.56,36.59 L291.79,36.60 L292.01,36.67 L292.24,36.81 L292.46,37.00 L292.69,37.24 L292.91,37.53 L293.13,37.86 L293.35,38.23 L293.56,38.64 L293.77,39.07 L293.98,39.53 L294.18,40.02 L294.38,40.52 L294.57,41.03 L294.76,41.56 L294.94,42.10 L295.11,42.65 L295.28,43.21 L295.45,43.78 L295.61,44.36 L295.77,44.95 L295.92,45.55 L296.07,46.15 L296.21,46.77 L296.35,47.38 L296.49,48.01 L296.62,48.63 L296.75,49.26 L296.87,49.90 L296.99,50.54 L297.11,51.18 L297.23,51.82 L297.34,52.46 L297.45,53.11 L297.56,53.76 L297.66,54.41 L297.76,55.06 L297.86,55.71 L297.96,56.36 L298.06,57.02 L298.15,57.67 L298.24,58.33 L298.33,58.98 L298.42,59.63 L298.51,60.28 L298.59,60.94 L298.68,61.59 L298.76,62.24 L298.84,62.88 L298.92,63.53 L299.00,64.18 L299.08,64.82 L299.16,65.46 L299.24,66.10 L299.32,66.74 L299.39,67.38 L299.47,68.02 L299.54,68.66 L299.61,69.29 L299.69,69.92 L299.76,70.55 L299.83,71.18 L299.90,71.81 L299.97,72.44 L300.04,73.07 L300.11,73.69 L300.18,74.31 L300.24,74.94 L300.31,75.56 L300.38,76.17 L300.44,76.79 L300.51,77.41 L300.58,78.02 L300.64,78.64 L300.71,79.25 L300.77,79.86 L300.83,80.47 L300.90,81.08 L300.96,81.69 L301.02,82.30 L301.08,82.91 L301.14,83.51 L301.21,84.12 L301.27,84.72 L301.33,85.33 L301.38,85.93 L301.44,86.53 L301.50,87.13 L301.56,87.73 L301.62,88.34 L301.67,88.94 L301.73,89.54 L301.79,90.14 L301.84,90.74 L301.90,91.33 L301.95,91.93 L302.01,92.53 L302.06,93.13 L302.11,93.73 L302.17,94.32 L302.22,94.92 L302.27,95.52 L302.33,96.11 L302.38,96.71 L302.43,97.31 L302.48,97.90 L302.53,98.50 L302.59,99.10 L302.64,99.69 L302.69,100.29 L302.74,100.88 L302.79,101.48 L302.84,102.07 L302.89,102.67 L302.95,103.27 L303.00,103.86 L303.05,104.46 L303.10,105.05 L303.15,105.65 L303.20,106.24 L303.25,106.84 L303.31,107.44 L303.36,108.03 L303.41,108.63 L303.46,109.22 L303.51,109.82 L303.57,110.41 L303.62,111.01 L303.67,111.61 L303.73,112.20 L303.78,112.80 L303.83,113.39 L303.89,113.99 L303.94,114.59 L304.00,115.18 L304.05,115.78 L304.11,116.38 L304.16,116.97 L304.22,117.57 L304.27,118.16 L304.33,118.76 L304.39,119.36 L304.44,119.95 L304.50,120.55 L304.56,121.15 L304.62,121.74 L304.68,122.34 L304.73,122.94 L304.79,123.53 L304.85,124.13 L304.91,124.73 L304.97,125.32 L305.03,125.92 L305.09,126.52 L305.15,127.11 L305.21,127.71 L305.27,128.31 L305.34,128.90 L305.40,129.50 L305.46,130.10 L305.52,130.69 L305.59,131.29 L305.65,131.89 L305.72,132.48 L305.78,133.08 L305.84,133.68 L305.91,134.27 L305.98,134.87 L306.04,135.46 L306.11,136.06 L306.18,136.66 L306.24,137.25 L306.31,137.85 L306.38,138.45 L306.45,139.04 L306.52,139.64 L306.58,140.24 L306.65,140.83 L306.72,141.43 L306.80,142.03 L306.87,142.62 L306.94,143.22 L307.01,143.81 L307.08,144.41 L307.15,145.01 L307.22,145.60 L307.30,146.20 L307.37,146.79 L307.44,147.39 L307.52,147.99 L307.59,148.58 L307.67,149.18 L307.74,149.77 L307.82,150.37 L307.89,150.97 L307.97,151.56 L308.04,152.16 L308.12,152.75 L308.20,153.35 L308.28,153.94 L308.35,154.54 L308.43,155.13 L308.51,155.73 L308.59,156.32 L308.67,156.92 L308.75,157.52 L308.83,158.11 L308.91,158.71 L308.99,159.30 L309.07,159.90 L309.15,160.49 L309.23,161.09 L309.31,161.68 L309.39,162.27 L309.48,162.87 L309.56,163.46 L309.64,164.06 L309.73,164.65 L309.81,165.25 L309.89,165.84 L309.98,166.44 L310.06,167.03 L310.15,167.63 L310.23,168.22 L310.32,168.81 L310.40,169.41 L310.49,170.00 L310.57,170.60 L310.66,171.19 L310.74,171.78 L310.83,172.38 L310.92,172.97 L311.00,173.57 L311.09,174.16 L311.18,174.75 L311.26,175.35 L311.35,175.94 L311.44,176.53 L311.52,177.13 L311.61,177.72 L311.70,178.31 L311.79,178.91 L311.88,179.50 L311.96,180.09 L312.05,180.69 L312.14,181.28 L312.23,181.87 L312.32,182.47 L312.41,183.06 L312.50,183.65 L312.59,184.24 L312.68,184.84 L312.77,185.43 L312.86,186.02 L312.95,186.61 L313.04,187.21 L313.13,187.80 L313.22,188.39 L313.32,188.98 L313.41,189.57 L313.50,190.17 L313.59,190.76 L313.69,191.35 L313.78,191.94 L313.87,192.53 L313.97,193.12 L314.06,193.72 L314.16,194.31 L314.25,194.90 L314.35,195.49 L314.44,196.08 L314.54,196.67 L314.64,197.26 L314.74,197.85 L314.83,198.44 L314.93,199.03 L315.03,199.62 L315.13,200.22 L315.23,200.81 L315.33,201.40 L315.43,201.99 L315.53,202.58 L315.64,203.17 L315.74,203.76 L315.84,204.35 L315.95,204.94 L316.05,205.53 L316.15,206.12 L316.26,206.71 L316.37,207.30 L316.47,207.89 L316.58,208.48 L316.69,209.07 L316.80,209.66 L316.91,210.25 L317.02,210.85 L317.13,211.44 L317.24,212.03 L317.35,212.62 L317.47,213.21 L317.58,213.80 L317.70,214.40 L317.81,214.99 L317.93,215.58 L318.05,216.17 L318.17,216.77 L318.29,217.36 L318.41,217.95 L318.53,218.55 L318.66,219.14 L318.78,219.74 L318.91,220.33 L319.04,220.93 L319.16,221.53 L319.29,222.12 L319.43,222.72 L319.56,223.32 L319.69,223.91 L319.83,224.51 L319.96,225.11 L320.10,225.71 L320.24,226.31 L320.38,226.91 L320.53,227.51 L320.67,228.12 L320.82,228.72 L320.97,229.32 L321.12,229.93 L321.27,230.53 L321.43,231.14 L321.58,231.74 L321.74,232.35 L321.90,232.96 L322.06,233.56 L322.23,234.17 L322.40,234.78 L322.57,235.39 L322.74,235.99 L322.91,236.60 L323.09,237.21 L323.27,237.82 L323.46,238.43 L323.64,239.04 L323.83,239.65 L324.03,240.26 L324.22,240.86 L324.42,241.47 L324.63,242.08 L324.83,242.69 L325.04,243.29 L325.26,243.90 L325.48,244.50 L325.70,245.10 L325.92,245.70 L326.16,246.30 L326.39,246.89 L326.63,247.48 L326.88,248.07 L327.13,248.66 L327.38,249.24 L327.64,249.82 L327.91,250.39 L328.18,250.96 L328.45,251.53 L328.74,252.09 L329.03,252.65 L329.32,253.20 L329.62,253.74 L329.93,254.28 L330.24,254.80 L330.56,255.32 L330.89,255.84 L331.22,256.34 L331.56,256.83 L331.90,257.31 L332.26,257.78 L332.62,258.24 L332.98,258.69 L333.36,259.13 L333.74,259.55 L334.13,259.95 L334.52,260.35 L334.92,260.72 L335.34,261.08 L335.75,261.42 L336.18,261.74 L336.61,262.05 L337.05,262.33 L337.49,262.59 L337.95,262.83 L338.41,263.05 L338.87,263.24 L339.34,263.41 L339.82,263.55 L340.30,263.67 L340.78,263.75 L341.26,263.81 L341.75,263.84 L342.24,263.83 L342.72,263.80 L343.21,263.74 L343.69,263.65 L344.17,263.53 L344.65,263.39 L345.12,263.22 L345.59,263.03 L346.05,262.81 L346.50,262.57 L346.95,262.31 L347.39,262.03 L347.83,261.73 L348.25,261.41 L348.67,261.07 L349.09,260.71 L349.50,260.33 L349.90,259.94 L350.29,259.54 L350.68,259.12 L351.06,258.69 L351.43,258.24 L351.80,257.78 L352.16,257.31 L352.52,256.83 L352.87,256.34 L353.21,255.84 L353.55,255.34 L353.89,254.82 L354.21,254.29 L354.54,253.76 L354.86,253.22 L355.17,252.68 L355.48,252.13 L355.78,251.58 L356.08,251.02 L356.38,250.46 L356.67,249.89 L356.96,249.32 L357.24,248.75 L357.52,248.17 L357.80,247.59 L358.07,247.01 L358.34,246.43 L358.61,245.84 L358.87,245.25 L359.13,244.66 L359.39,244.08 L359.64,243.49 L359.90,242.90 L360.15,242.31 L360.40,241.72 L360.64,241.13 L360.89,240.54 L361.13,239.95 L361.38,239.36 L361.62,238.77 L361.85,238.18 L362.09,237.59 L362.33,237.00 L362.56,236.42 L362.80,235.83 L363.03,235.24 L363.26,234.66 L363.50,234.08 L363.73,233.50 L363.96,232.91 L364.19,232.34 L364.42,231.76 L364.65,231.18 L364.88,230.60 L365.11,230.03 L365.34,229.45 L365.57,228.88 L365.80,228.31 L366.03,227.74 L366.26,227.17 L366.49,226.60 L366.72,226.04 L366.95,225.47 L367.19,224.91 L367.42,224.34 L367.65,223.78 L367.88,223.22 L368.12,222.66 L368.35,222.10 L368.59,221.54 L368.83,220.98 L369.06,220.43 L369.30,219.87 L369.54,219.32 L369.78,218.76 L370.02,218.21 L370.26,217.66 L370.50,217.11 L370.74,216.55 L370.99,216.00 L371.23,215.45 L371.48,214.91 L371.72,214.36 L371.97,213.81 L372.22,213.26 L372.47,212.72 L372.72,212.17 L372.97,211.62 L373.22,211.08 L373.47,210.53 L373.72,209.99 L373.97,209.44 L374.23,208.90 L374.48,208.35 L374.74,207.81 L374.99,207.27 L375.25,206.72 L375.51,206.18 L375.76,205.64 L376.02,205.10 L376.28,204.55 L376.54,204.01 L376.80,203.47 L377.06,202.93 L377.33,202.39 L377.59,201.84 L377.85,201.30 L378.12,200.76 L378.38,200.22 L378.65,199.68 L378.92,199.14 L379.19,198.60 L379.45,198.06 L379.72,197.52 L380.00,196.98 L380.27,196.45 L380.54,195.91 L380.82,195.37 L381.10,194.83 L381.37,194.30 L381.65,193.76 L381.93,193.23 L382.22,192.69 L382.50,192.16 L382.79,191.63 L383.08,191.10 L383.37,190.57 L383.66,190.04 L383.95,189.51 L384.25,188.98 L384.55,188.46 L384.85,187.93 L385.16,187.41 L385.46,186.89 L385.77,186.37 L386.09,185.86 L386.40,185.34 L386.72,184.83 L387.05,184.32 L387.37,183.81 L387.70,183.30 L388.03,182.80 L388.37,182.30 L388.71,181.80 L389.05,181.31 L389.40,180.81 L389.75,180.32 L390.11,179.84 L390.47,179.35 L390.83,178.87 L391.19,178.40 L391.56,177.92 L391.94,177.45 L392.32,176.99 L392.70,176.52 L393.09,176.07 L393.48,175.61 L393.87,175.16 L394.27,174.72 L394.68,174.28 L395.09,173.84 L395.50,173.41 L395.92,172.98 L396.34,172.56 L396.77,172.15 L397.20,171.74 L397.64,171.33 L398.08,170.93 L398.52,170.54 L398.97,170.15 L399.43,169.77 L399.89,169.40 L400.35,169.03 L400.82,168.67 L401.29,168.31 L401.77,167.97 L402.25,167.63 L402.74,167.29 L403.23,166.97 L403.73,166.65 L404.23,166.34 L404.74,166.04 L405.24,165.74 L405.76,165.45 L406.28,165.17 L406.80,164.90 L407.33,164.64 L407.86,164.39 L408.39,164.14 L408.93,163.90 L409.47,163.67 L410.02,163.45 L410.57,163.24 L411.12,163.03 L411.68,162.84 L412.24,162.65 L412.80,162.47 L413.36,162.31 L413.93,162.15 L414.50,161.99 L415.08,161.85 L415.65,161.72 L416.23,161.59 L416.81,161.47 L417.39,161.36 L417.98,161.26 L418.56,161.17 L419.15,161.09 L419.74,161.02 L420.33,160.95 L420.92,160.89 L421.51,160.84 L422.11,160.80 L422.70,160.77 L423.30,160.74 L423.89,160.73 L424.49,160.72 L425.08,160.71 L425.68,160.72 L426.28,160.73 L426.88,160.75 L427.47,160.78 L428.07,160.81 L428.67,160.85 L429.27,160.90 L429.86,160.95 L430.46,161.01 L431.06,161.07 L431.65,161.15 L432.25,161.22 L432.84,161.31 L433.44,161.40 L434.03,161.49 L434.62,161.60 L435.21,161.70 L435.80,161.82 L436.39,161.94 L436.98,162.06 L437.57,162.19 L438.16,162.33 L438.74,162.47 L439.33,162.62 L439.91,162.77 L440.49,162.92 L441.07,163.09 L441.65,163.25 L442.22,163.43 L442.80,163.61 L443.37,163.79 L443.95,163.98 L444.52,164.17 L445.09,164.37 L445.65,164.57 L446.22,164.77 L446.78,164.99 L447.34,165.20 L447.90,165.42 L448.46,165.65 L449.02,165.88 L449.57,166.11 L450.13,166.35 L450.68,166.59 L451.23,166.84 L451.78,167.09 L452.32,167.34 L452.87,167.60 L453.41,167.86 L453.95,168.13 L454.49,168.40 L455.02,168.67 L455.56,168.95 L456.09,169.23 L456.62,169.51 L457.15,169.80 L457.67,170.09 L458.20,170.39 L458.72,170.69 L459.24,170.99 L459.76,171.29 L460.28,171.60 L460.79,171.91 L461.31,172.22 L461.82,172.54 L462.33,172.86 L462.83,173.18 L463.34,173.51 L463.84,173.84 L464.35,174.17 L464.85,174.50 L465.35,174.84 L465.84,175.18 L466.34,175.52 L466.83,175.86 L467.32,176.21 L467.81,176.56 L468.30,176.91 L468.79,177.26 L469.28,177.62 L469.76,177.98 L470.24,178.34 L470.72,178.70 L471.20,179.06 L471.68,179.43 L472.15,179.79 L472.63,180.16 L473.10,180.54 L473.57,180.91 L474.04,181.28 L474.51,181.66 L474.98,182.04 L475.44,182.42 L475.91,182.80 L476.37,183.19 L476.83,183.57 L477.29,183.96 L477.75,184.35 L478.20,184.74 L478.66,185.13 L479.11,185.53 L479.56,185.92 L480.01,186.32 L480.46,186.72 L480.91,187.12 L481.35,187.52 L481.80,187.92 L482.24,188.33 L482.68,188.74 L483.12,189.14 L483.56,189.55 L484.00,189.97 L484.43,190.38 L484.87,190.79 L485.30,191.21 L485.73,191.62 L486.17,192.04 L486.59,192.46 L487.02,192.88 L487.45,193.30 L487.88,193.72 L488.30,194.15 L488.73,194.57 L489.15,195.00 L489.57,195.43 L489.99,195.85 L490.41,196.28 L490.83,196.71 L491.25,197.14 L491.66,197.57 L492.08,198.01 L492.50,198.44 L492.91,198.87 L493.33,199.31 L493.74,199.74 L494.15,200.18 L494.57,200.61 L494.98,201.05 L495.39,201.48 L495.81,201.92 L496.22,202.36 L496.63,202.79 L497.04,203.23 L497.46,203.66 L497.87,204.10 L498.28,204.54 L498.69,204.97 L499.11,205.41 L499.52,205.84 L499.94,206.28 L500.35,206.71 L500.77,207.14 L501.18,207.58 L501.60,208.01 L502.01,208.44 L502.43,208.88 L502.84,209.31 L503.26,209.74 L503.68,210.17 L504.09,210.61 L504.51,211.04 L504.93,211.47 L505.35,211.90 L505.76,212.33 L506.18,212.76 L506.60,213.19 L507.02,213.62 L507.44,214.05 L507.86,214.48 L508.28,214.91 L508.70,215.34 L509.12,215.76 L509.54,216.19 L509.96,216.62 L510.39,217.05 L510.81,217.47 L511.23,217.90 L511.65,218.33 L512.07,218.76 L512.50,219.18 L512.92,219.61 L513.34,220.04 L513.76,220.46 L514.18,220.89 L514.61,221.32 L515.03,221.74 L515.45,222.17 L515.87,222.60 L516.30,223.02 L516.72,223.45 L517.14,223.88 L517.56,224.30 L517.98,224.73 L518.41,225.16 L518.83,225.58 L519.25,226.01 L519.67,226.44 L520.09,226.87 L520.51,227.30 L520.93,227.73 L521.35,228.15 L521.77,228.58 L522.19,229.01 L522.61,229.44 L523.03,229.87 L523.44,230.31 L523.86,230.74 L524.28,231.17 L524.69,231.60 L525.11,232.03 L525.53,232.47 L525.94,232.90 L526.35,233.33 L526.77,233.77 L527.18,234.20 L527.59,234.64 L528.01,235.07 L528.42,235.51 L528.83,235.95 L529.24,236.39 L529.65,236.83 L530.06,237.26 L530.47,237.70 L530.88,238.14 L531.28,238.58 L531.69,239.02 L532.10,239.47 L532.50,239.91 L532.91,240.35 L533.32,240.79 L533.72,241.24 L534.13,241.68 L534.53,242.12 L534.93,242.57 L535.34,243.01 L535.74,243.46 L536.14,243.90 L536.55,244.35 L536.95,244.79 L537.35,245.24 L537.75,245.68 L538.15,246.13 L538.56,246.57 L538.96,247.02 L539.36,247.47 L539.76,247.91 L540.16,248.36 L540.57,248.80 L540.97,249.25 L541.37,249.70 L541.77,250.14 L542.18,250.59 L542.58,251.03 L542.98,251.47 L543.39,251.92 L543.79,252.36 L544.20,252.81 L544.60,253.25 L545.01,253.69 L545.41,254.13 L545.82,254.58 L546.23,255.02 L546.63,255.46 L547.04,255.90 L547.45,256.34 L547.86,256.78 L548.27,257.22 L548.68,257.66 L549.09,258.09 L549.50,258.53 L549.91,258.97 L550.32,259.41 L550.74,259.84 L551.15,260.28 L551.56,260.71 L551.98,261.15 L552.39,261.58 L552.81,262.01 L553.22,262.45 L553.64,262.88 L554.06,263.31 L554.48,263.74 L554.90,264.17 L555.32,264.59 L555.74,265.02 L556.16,265.44 L556.59,265.87 L557.01,266.29 L557.44,266.71 L557.87,267.13 L558.30,267.55 L558.73,267.97 L559.16,268.39 L559.59,268.80 L560.02,269.22 L560.46,269.63 L560.90,270.04 L561.33,270.45 L561.77,270.86 L562.21,271.26 L562.66,271.67 L563.10,272.07 L563.54,272.47 L563.99,272.87 L564.44,273.27 L564.89,273.67 L565.34,274.06 L565.79,274.46 L566.24,274.85 L566.70,275.24 L567.15,275.63 L567.61,276.02 L568.07,276.40 L568.53,276.79 L568.99,277.17 L569.45,277.55 L569.92,277.93 L570.38,278.31 L570.85,278.68 L571.32,279.06 L571.79,279.43 L572.26,279.80 L572.73,280.17 L573.20,280.54 L573.68,280.91 L574.15,281.27 L574.63,281.64 L575.10,282.00 L575.58,282.36 L576.06,282.72 L576.54,283.08 L577.03,283.44 L577.51,283.79 L577.99,284.15 L578.48,284.50 L578.97,284.85 L579.45,285.20 L579.94,285.54 L580.43,285.89 L580.92,286.23 L581.42,286.58 L581.91,286.92 L582.41,287.26 L582.90,287.59 L583.40,287.93 L583.90,288.26 L584.39,288.60 L584.89,288.93 L585.39,289.26 L585.90,289.59 L586.40,289.92 L586.90,290.25 L587.41,290.57 L587.91,290.90 L588.42,291.22 L588.92,291.54 L589.43,291.86 L589.94,292.18 L590.45,292.50 L590.96,292.82 L591.47,293.14 L591.98,293.45 L592.49,293.77 L593.00,294.08 L593.51,294.39 L594.02,294.71 L594.54,295.02 L595.05,295.33 L595.57,295.64 L596.08,295.95 L596.60,296.25 L597.11,296.56 L597.63,296.87 L598.15,297.17 L598.66,297.48 L599.18,297.78 L599.70,298.09 L600.22,298.39 L600.73,298.70 L601.25,299.00 L601.77,299.30 L602.29,299.60 L602.81,299.90 L603.33,300.20 L603.85,300.51 L604.37,300.81 L604.89,301.11 L605.41,301.41 L605.93,301.70 L606.45,302.00 L606.97,302.30 L607.49,302.60 L608.01,302.90 L608.54,303.20 L609.06,303.50 L609.58,303.79 L610.10,304.09 L610.62,304.39 L611.14,304.69 L611.66,304.99 L612.18,305.28 L612.70,305.58 L613.23,305.88 L613.75,306.18 L614.27,306.47 L614.79,306.77 L615.31,307.07 L615.84,307.36 L616.36,307.66 L616.88,307.95 L617.40,308.24 L617.93,308.54 L618.45,308.83 L618.98,309.12 L619.50,309.41 L620.03,309.70 L620.56,309.98 L621.08,310.27 L621.61,310.56 L622.14,310.84 L622.67,311.12 L623.20,311.40 L623.73,311.68 L624.26,311.96 L624.79,312.24 L625.32,312.52 L625.86,312.79 L626.39,313.06 L626.93,313.33 L627.46,313.60 L628.00,313.87 L628.54,314.14 L629.08,314.40 L629.61,314.66 L630.15,314.92 L630.70,315.18 L631.24,315.44 L631.78,315.69 L632.32,315.95 L632.87,316.20 L633.41,316.44 L633.96,316.69 L634.51,316.94 L635.05,317.18 L635.60,317.42 L636.15,317.66 L636.70,317.89 L637.26,318.13 L637.81,318.36 L638.36,318.59 L638.92,318.82 L639.47,319.04 L640.03,319.27 L640.59,319.49 L641.14,319.70 L641.70,319.92 L642.26,320.13 L642.82,320.34 L643.38,320.55 L643.95,320.76 L644.51,320.96 L645.08,321.16 L645.64,321.36 L646.21,321.56 L646.77,321.75 L647.34,321.95 L647.91,322.14 L648.48,322.32 L649.05,322.51 L649.62,322.69 L650.19,322.87 L650.76,323.05 L651.34,323.23 L651.91,323.40 L652.49,323.57 L653.06,323.74 L653.64,323.91 L654.21,324.07 L654.79,324.23 L655.37,324.39 L655.95,324.55 L656.53,324.71 L657.11,324.86 L657.69,325.01 L658.27,325.16 L658.85,325.31 L659.43,325.45 L660.01,325.59 L660.60,325.73 L661.18,325.87 L661.77,326.01 L662.35,326.14 L662.94,326.28 L663.52,326.41 L664.11,326.53 L664.70,326.66 L665.28,326.79 L665.87,326.91 L666.46,327.03 L667.05,327.15 L667.63,327.26 L668.22,327.38 L668.81,327.49 L669.40,327.60 L669.99,327.71 L670.58,327.82 L671.18,327.92 L671.77,328.03 L672.36,328.13 L672.95,328.23 L673.54,328.33 L674.13,328.43 L674.73,328.52 L675.32,328.61 L675.91,328.70 L676.51,328.79 L677.10,328.88 L677.70,328.97 L678.29,329.05 L678.88,329.14 L679.48,329.22 L680.07,329.30 L680.67,329.38 L681.27,329.45 L681.86,329.53 L682.46,329.60 L683.05,329.68 L683.65,329.75 L684.25,329.82 L684.84,329.89 L685.44,329.95 L686.04,330.02 L686.63,330.08 L687.23,330.15 L687.83,330.21 L688.43,330.27 L689.02,330.33 L689.62,330.39 L690.22,330.44 L690.82,330.50 L691.41,330.56 L692.01,330.61 L692.61,330.66 L693.21,330.72 L693.81,330.77 L694.41,330.82 L695.00,330.87 L695.60,330.92 L696.20,330.97 L696.80,331.01 L697.40,331.06 L698.00,331.11 L698.60,331.15 L699.20,331.20 L699.80,331.24 L700.39,331.28 L700.99,331.33 L701.59,331.37 L702.19,331.41 L702.79,331.46 L703.39,331.50 L703.99,331.54 L704.59,331.58 L705.19,331.62 L705.79,331.66 L706.39,331.70 L706.99,331.74 L707.59,331.78" stroke-width="4.0"/>
</g>
<g stroke="#1a1a1a" stroke-width="2.2" fill="none">
<line x1="144" y1="5" x2="144" y2="340.2"/>
<line x1="143" y1="6" x2="709.6" y2="6"/>
<line x1="708.5" y1="5" x2="708.5" y2="340.2"/>
<line x1="137.5" y1="339.2" x2="709.6" y2="339.2"/>
</g>
<!-- legend -->
<rect x="521.9" y="17.5" width="158.7" height="153" fill="#fff" stroke="#1a1a1a" stroke-width="2"/>
<g font-weight="bold" font-size="12" fill="#1a1a1a" stroke="#1a1a1a" stroke-width="0.35">
<text x="530.2" y="37.6" textLength="131.2" lengthAdjust="spacingAndGlyphs">Gündüz-gece duyarlığı</text>
<text x="557.8" y="88.3" textLength="76" lengthAdjust="spacingAndGlyphs">Göz duyarlığı</text>
<text x="546.2" y="133.4" textLength="100" lengthAdjust="spacingAndGlyphs">Mavi ağırlıklı LED</text>
</g>
<g fill="none" stroke="#111" stroke-linecap="round">
<path d="M537.70,52.90 C541.20,53.80 544.63,54.78 548.20,55.60 C551.77,56.42 555.47,57.23 559.10,57.80 C562.73,58.37 566.37,58.87 570.00,59.00 C573.63,59.13 577.27,58.97 580.90,58.60 C584.53,58.23 588.17,57.53 591.80,56.80 C595.43,56.07 599.13,55.07 602.70,54.20 C606.27,53.33 609.67,52.42 613.20,51.60 C616.73,50.78 620.27,49.87 623.90,49.30 C627.53,48.73 631.40,48.15 635.00,48.20 C638.60,48.25 642.77,49.02 645.50,49.60 C648.23,50.18 648.98,50.70 651.40,51.70 C653.82,52.70 657.13,54.30 660.00,55.60" stroke-width="2.3" stroke-dasharray="5.5 5.45" stroke-linecap="butt"/>
<path d="M537.70,101.70 C541.20,102.60 544.63,103.58 548.20,104.40 C551.77,105.22 555.47,106.03 559.10,106.60 C562.73,107.17 566.37,107.67 570.00,107.80 C573.63,107.93 577.27,107.77 580.90,107.40 C584.53,107.03 588.17,106.33 591.80,105.60 C595.43,104.87 599.13,103.87 602.70,103.00 C606.27,102.13 609.67,101.22 613.20,100.40 C616.73,99.58 620.27,98.67 623.90,98.10 C627.53,97.53 631.40,96.95 635.00,97.00 C638.60,97.05 642.77,97.82 645.50,98.40 C648.23,98.98 648.98,99.50 651.40,100.50 C653.82,101.50 657.13,103.10 660.00,104.40" stroke-width="1.5"/>
<path d="M537.70,148.50 C541.20,149.40 544.63,150.38 548.20,151.20 C551.77,152.02 555.47,152.83 559.10,153.40 C562.73,153.97 566.37,154.47 570.00,154.60 C573.63,154.73 577.27,154.57 580.90,154.20 C584.53,153.83 588.17,153.13 591.80,152.40 C595.43,151.67 599.13,150.67 602.70,149.80 C606.27,148.93 609.67,148.02 613.20,147.20 C616.73,146.38 620.27,145.47 623.90,144.90 C627.53,144.33 631.40,143.75 635.00,143.80 C638.60,143.85 642.77,144.62 645.50,145.20 C648.23,145.78 648.98,146.30 651.40,147.30 C653.82,148.30 657.13,149.90 660.00,151.20" stroke-width="3.8"/>
</g>
<g font-weight="bold" font-size="16" fill="#1a1a1a">
<text x="209.9" y="360.9" text-anchor="middle">400</text>
<text x="277.1" y="360.9" text-anchor="middle">450</text>
<text x="343.1" y="360.9" text-anchor="middle">500</text>
<text x="409.7" y="360.9" text-anchor="middle">550</text>
<text x="476.2" y="360.9" text-anchor="middle">600</text>
<text x="542.9" y="360.9" text-anchor="middle">650</text>
<text x="609.5" y="360.9" text-anchor="middle">700</text>
<text x="675.3" y="360.9" text-anchor="middle">750</text>
<text x="134.6" y="28.3" text-anchor="end">1.0</text>
<text x="134.6" y="91.7" text-anchor="end">0.8</text>
<text x="134.6" y="155.1" text-anchor="end">0.6</text>
<text x="134.6" y="218.5" text-anchor="end">0.4</text>
<text x="134.6" y="281.9" text-anchor="end">0.2</text>
<text x="134.6" y="345.3" text-anchor="end">0</text>
</g>
<text x="376.6" y="380.6" font-weight="bold" font-size="14" fill="#1a1a1a" stroke="#1a1a1a" stroke-width="0.35" textLength="110" lengthAdjust="spacingAndGlyphs">Dalgaboyu (nm)</text>
<text transform="translate(104.9,238.6) rotate(-90)" x="0" y="0" font-weight="bold" font-size="14.6" fill="#1a1a1a" stroke="#1a1a1a" stroke-width="0.35" textLength="104.6" lengthAdjust="spacingAndGlyphs">Göreli Duyarlık</text>
<rect x="177.5" y="391.4" width="498.7" height="35.4" fill="url(#spec)"/>
<g font-weight="bold" font-size="12.6" fill="#1a1a1a" stroke="#1a1a1a" stroke-width="0.35">
<text x="201.6" y="440.8" textLength="24.6" lengthAdjust="spacingAndGlyphs">Mor</text>
<text x="286.4" y="440.8" textLength="31.4" lengthAdjust="spacingAndGlyphs">Mavi</text>
<text x="377.9" y="440.8" textLength="28.4" lengthAdjust="spacingAndGlyphs">Yeşil</text>
<text x="455.2" y="440.8" textLength="24.6" lengthAdjust="spacingAndGlyphs">Sarı</text>
<text x="492.6" y="440.8" textLength="52" lengthAdjust="spacingAndGlyphs">Turuncu</text>
<text x="587.5" y="440.8" textLength="45" lengthAdjust="spacingAndGlyphs">Kırmızı</text>
</g>
<text x="532.8" y="485.3" font-size="9" fill="#1e1e1e" stroke="#1e1e1e" stroke-width="0.25" textLength="170.8" lengthAdjust="spacingAndGlyphs">Kaynak: Uluslararası Karanlık Gökyüzü Birliği</text>
</svg>
</body></html>
